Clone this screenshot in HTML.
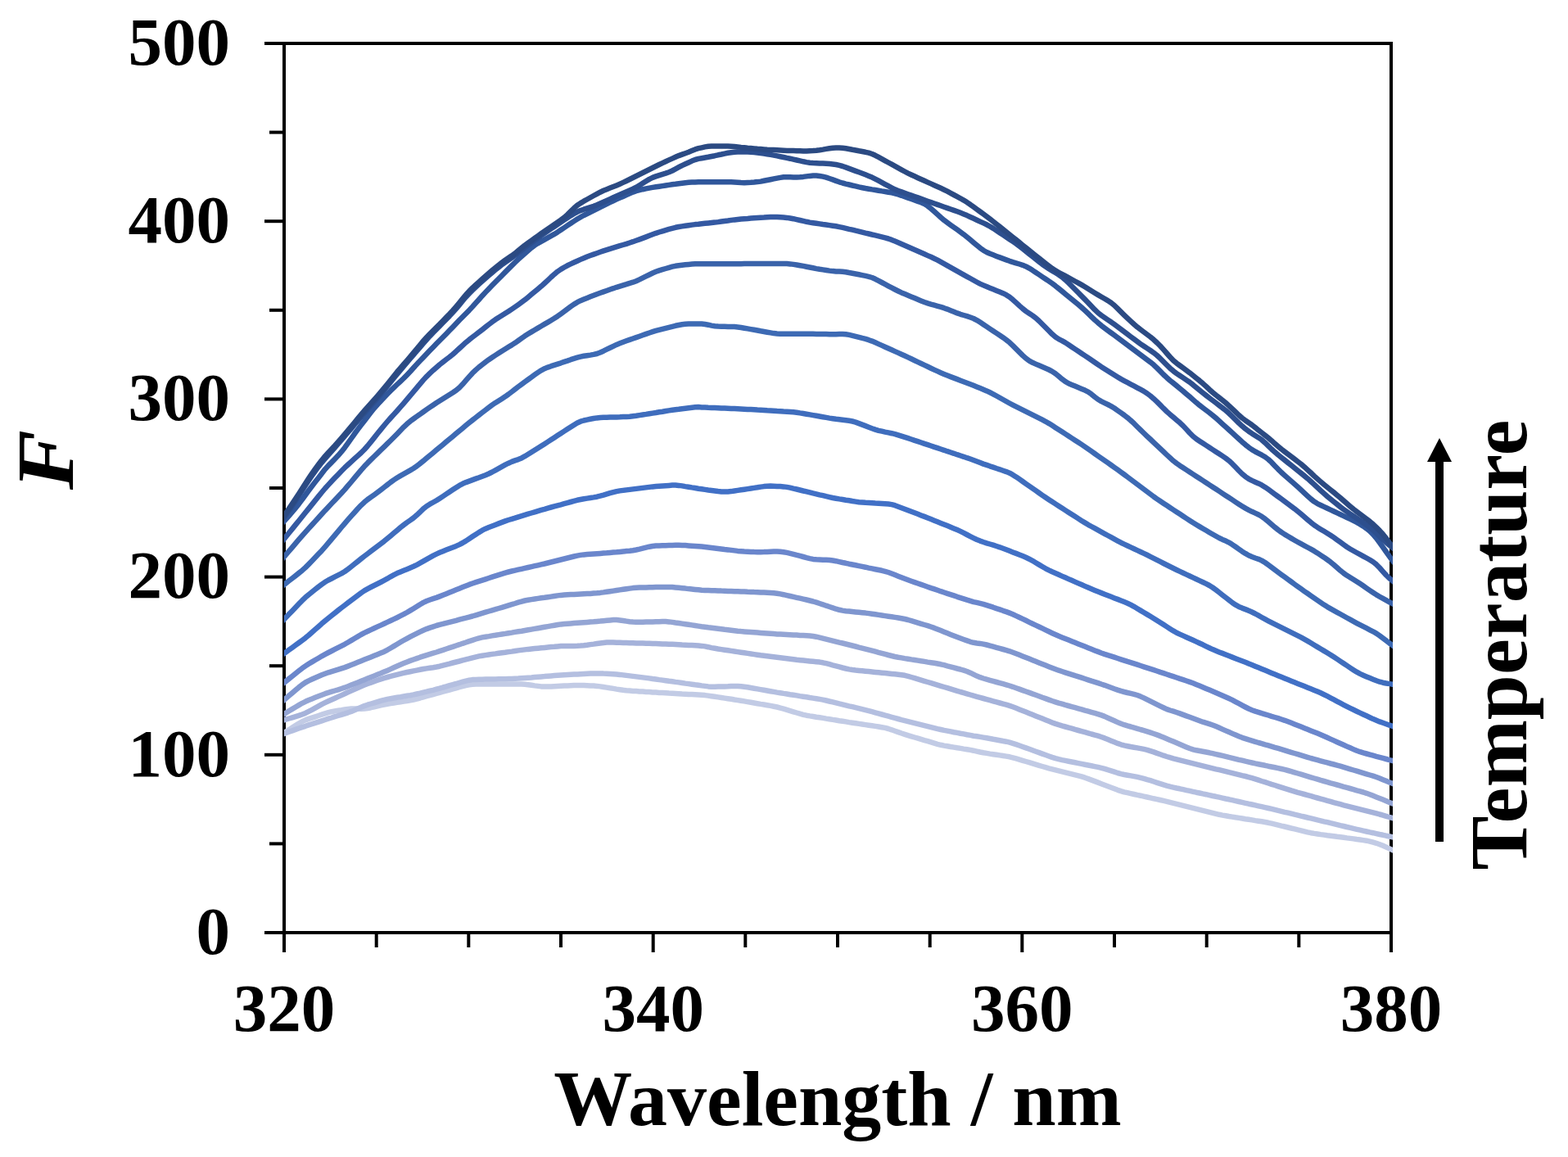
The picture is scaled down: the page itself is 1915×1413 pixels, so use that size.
<!DOCTYPE html>
<html><head><meta charset="utf-8"><title>Fluorescence spectra</title>
<style>
html,body{margin:0;padding:0;background:#fff;}
svg{display:block;}
text{font-family:"Liberation Serif","Times New Roman",serif;font-weight:bold;fill:#000;}
</style></head>
<body>
<svg width="1915" height="1413" viewBox="0 0 1915 1413">
<rect width="1915" height="1413" fill="#fff"/>
<g stroke="#000" stroke-width="4" fill="none" stroke-linecap="butt">
<rect x="347" y="53" width="1352" height="1086"/>
<line x1="323" y1="1139.0" x2="347" y2="1139.0"/>
<line x1="323" y1="921.8" x2="347" y2="921.8"/>
<line x1="323" y1="704.6" x2="347" y2="704.6"/>
<line x1="323" y1="487.4" x2="347" y2="487.4"/>
<line x1="323" y1="270.2" x2="347" y2="270.2"/>
<line x1="323" y1="53.0" x2="347" y2="53.0"/>
<line x1="329" y1="1030.4" x2="347" y2="1030.4"/>
<line x1="329" y1="813.2" x2="347" y2="813.2"/>
<line x1="329" y1="596.0" x2="347" y2="596.0"/>
<line x1="329" y1="378.8" x2="347" y2="378.8"/>
<line x1="329" y1="161.6" x2="347" y2="161.6"/>
<line x1="347.0" y1="1139" x2="347.0" y2="1163"/>
<line x1="797.7" y1="1139" x2="797.7" y2="1163"/>
<line x1="1248.3" y1="1139" x2="1248.3" y2="1163"/>
<line x1="1699.0" y1="1139" x2="1699.0" y2="1163"/>
<line x1="459.7" y1="1139" x2="459.7" y2="1157"/>
<line x1="572.3" y1="1139" x2="572.3" y2="1157"/>
<line x1="685.0" y1="1139" x2="685.0" y2="1157"/>
<line x1="910.3" y1="1139" x2="910.3" y2="1157"/>
<line x1="1023.0" y1="1139" x2="1023.0" y2="1157"/>
<line x1="1135.7" y1="1139" x2="1135.7" y2="1157"/>
<line x1="1361.0" y1="1139" x2="1361.0" y2="1157"/>
<line x1="1473.7" y1="1139" x2="1473.7" y2="1157"/>
<line x1="1586.3" y1="1139" x2="1586.3" y2="1157"/>
</g>
<defs><clipPath id="pc"><rect x="347" y="40" width="1354" height="1110"/></clipPath></defs>
<g fill="none" stroke-width="6.5" stroke-linejoin="round" stroke-linecap="butt" clip-path="url(#pc)">
<path d="M341.0,898.9 L345.0,896.3 L349.0,893.7 L353.0,891.1 L357.0,888.6 L361.0,886.0 L365.0,883.5 L369.0,881.2 L373.0,879.4 L377.0,877.9 L381.0,876.6 L385.0,875.3 L389.0,874.0 L393.0,872.7 L397.0,871.4 L401.0,870.2 L405.0,869.2 L409.0,868.4 L413.0,867.7 L417.0,867.1 L421.0,866.4 L425.0,865.9 L429.0,865.5 L433.0,865.5 L437.0,865.6 L441.0,865.7 L445.0,865.6 L449.0,865.0 L453.0,864.2 L457.0,863.3 L461.0,862.4 L465.0,861.4 L469.0,860.6 L473.0,859.8 L477.0,859.1 L481.0,858.5 L485.0,857.9 L489.0,857.2 L493.0,856.6 L497.0,856.0 L501.0,855.3 L505.0,854.5 L509.0,853.5 L513.0,852.5 L517.0,851.3 L521.0,850.2 L525.0,849.1 L529.0,848.0 L533.0,846.9 L537.0,845.8 L541.0,844.7 L545.0,843.6 L549.0,842.5 L553.0,841.4 L557.0,840.3 L561.0,839.2 L565.0,838.2 L569.0,837.1 L573.0,836.3 L577.0,835.8 L581.0,835.6 L585.0,835.6 L589.0,835.6 L593.0,835.6 L597.0,835.6 L601.0,835.6 L605.0,835.6 L609.0,835.6 L613.0,835.6 L617.0,835.6 L621.0,835.6 L625.0,835.6 L629.0,835.6 L633.0,835.6 L637.0,835.6 L641.0,835.8 L645.0,836.2 L649.0,836.8 L653.0,837.4 L657.0,837.9 L661.0,838.4 L665.0,838.6 L669.0,838.6 L673.0,838.4 L677.0,838.2 L681.0,838.0 L685.0,837.8 L689.0,837.6 L693.0,837.4 L697.0,837.2 L701.0,837.0 L705.0,836.9 L709.0,836.9 L713.0,837.0 L717.0,837.2 L721.0,837.4 L725.0,837.6 L729.0,837.9 L733.0,838.4 L737.0,839.0 L741.0,839.6 L745.0,840.3 L749.0,840.9 L753.0,841.6 L757.0,842.2 L761.0,842.8 L765.0,843.3 L769.0,843.6 L773.0,843.9 L777.0,844.1 L781.0,844.4 L785.0,844.6 L789.0,844.9 L793.0,845.1 L797.0,845.4 L801.0,845.6 L805.0,845.9 L809.0,846.1 L813.0,846.3 L817.0,846.6 L821.0,846.8 L825.0,847.0 L829.0,847.2 L833.0,847.5 L837.0,847.7 L841.0,847.9 L845.0,848.1 L849.0,848.3 L853.0,848.5 L857.0,848.8 L861.0,849.1 L865.0,849.6 L869.0,850.2 L873.0,850.8 L877.0,851.4 L881.0,852.0 L885.0,852.6 L889.0,853.2 L893.0,853.8 L897.0,854.5 L901.0,855.1 L905.0,855.7 L909.0,856.4 L913.0,857.1 L917.0,857.8 L921.0,858.5 L925.0,859.2 L929.0,859.9 L933.0,860.5 L937.0,861.2 L941.0,861.9 L945.0,862.7 L949.0,863.5 L953.0,864.6 L957.0,865.7 L961.0,866.9 L965.0,868.1 L969.0,869.3 L973.0,870.5 L977.0,871.7 L981.0,872.8 L985.0,873.7 L989.0,874.4 L993.0,875.0 L997.0,875.7 L1001.0,876.3 L1005.0,876.9 L1009.0,877.6 L1013.0,878.2 L1017.0,878.9 L1021.0,879.5 L1025.0,880.2 L1029.0,880.8 L1033.0,881.4 L1037.0,882.1 L1041.0,882.7 L1045.0,883.3 L1049.0,883.9 L1053.0,884.5 L1057.0,885.1 L1061.0,885.7 L1065.0,886.3 L1069.0,886.9 L1073.0,887.5 L1077.0,888.2 L1081.0,888.9 L1085.0,890.0 L1089.0,891.3 L1093.0,892.7 L1097.0,894.1 L1101.0,895.5 L1105.0,896.8 L1109.0,898.1 L1113.0,899.3 L1117.0,900.5 L1121.0,901.7 L1125.0,902.9 L1129.0,904.1 L1133.0,905.2 L1137.0,906.4 L1141.0,907.6 L1145.0,908.8 L1149.0,909.8 L1153.0,910.6 L1157.0,911.3 L1161.0,912.0 L1165.0,912.6 L1169.0,913.3 L1173.0,913.9 L1177.0,914.6 L1181.0,915.2 L1185.0,915.9 L1189.0,916.7 L1193.0,917.6 L1197.0,918.5 L1201.0,919.3 L1205.0,919.9 L1209.0,920.6 L1213.0,921.2 L1217.0,921.8 L1221.0,922.4 L1225.0,923.0 L1229.0,923.6 L1233.0,924.3 L1237.0,925.3 L1241.0,926.4 L1245.0,927.6 L1249.0,928.8 L1253.0,930.0 L1257.0,931.2 L1261.0,932.4 L1265.0,933.6 L1269.0,934.8 L1273.0,936.0 L1277.0,937.2 L1281.0,938.3 L1285.0,939.3 L1289.0,940.3 L1293.0,941.3 L1297.0,942.3 L1301.0,943.3 L1305.0,944.3 L1309.0,945.3 L1313.0,946.3 L1317.0,947.3 L1321.0,948.4 L1325.0,949.7 L1329.0,951.1 L1333.0,952.6 L1337.0,954.1 L1341.0,955.6 L1345.0,957.2 L1349.0,958.7 L1353.0,960.2 L1357.0,961.7 L1361.0,963.3 L1365.0,964.8 L1369.0,966.1 L1373.0,967.3 L1377.0,968.2 L1381.0,969.1 L1385.0,970.0 L1389.0,970.9 L1393.0,971.7 L1397.0,972.6 L1401.0,973.5 L1405.0,974.4 L1409.0,975.3 L1413.0,976.1 L1417.0,977.0 L1421.0,977.9 L1425.0,978.8 L1429.0,979.8 L1433.0,980.8 L1437.0,981.8 L1441.0,982.8 L1445.0,983.8 L1449.0,984.8 L1453.0,985.8 L1457.0,986.8 L1461.0,987.8 L1465.0,988.8 L1469.0,989.8 L1473.0,990.8 L1477.0,991.8 L1481.0,992.8 L1485.0,993.8 L1489.0,994.8 L1493.0,995.6 L1497.0,996.3 L1501.0,997.0 L1505.0,997.6 L1509.0,998.3 L1513.0,998.9 L1517.0,999.5 L1521.0,1000.2 L1525.0,1000.8 L1529.0,1001.4 L1533.0,1002.1 L1537.0,1002.7 L1541.0,1003.3 L1545.0,1004.0 L1549.0,1004.8 L1553.0,1005.7 L1557.0,1006.6 L1561.0,1007.6 L1565.0,1008.6 L1569.0,1009.5 L1573.0,1010.5 L1577.0,1011.5 L1581.0,1012.4 L1585.0,1013.4 L1589.0,1014.3 L1593.0,1015.3 L1597.0,1016.3 L1601.0,1017.2 L1605.0,1017.9 L1609.0,1018.5 L1613.0,1019.1 L1617.0,1019.6 L1621.0,1020.2 L1625.0,1020.7 L1629.0,1021.2 L1633.0,1021.8 L1637.0,1022.3 L1641.0,1022.8 L1645.0,1023.4 L1649.0,1023.9 L1653.0,1024.4 L1657.0,1025.0 L1661.0,1025.5 L1665.0,1026.1 L1669.0,1026.7 L1673.0,1027.6 L1677.0,1028.7 L1681.0,1029.8 L1685.0,1031.2 L1689.0,1032.8 L1693.0,1034.6 L1697.0,1036.4 L1701.0,1038.2 L1705.0,1039.6 L1706.0,1040.6" stroke="#c2cbe5"/>
<path d="M341.0,898.2 L345.0,896.7 L349.0,895.3 L353.0,893.8 L357.0,892.4 L361.0,890.9 L365.0,889.5 L369.0,888.1 L373.0,886.8 L377.0,885.4 L381.0,884.2 L385.0,882.9 L389.0,881.6 L393.0,880.3 L397.0,879.0 L401.0,877.7 L405.0,876.5 L409.0,875.2 L413.0,874.0 L417.0,872.8 L421.0,871.6 L425.0,870.3 L429.0,868.9 L433.0,867.3 L437.0,865.5 L441.0,863.8 L445.0,862.1 L449.0,860.7 L453.0,859.5 L457.0,858.3 L461.0,857.1 L465.0,855.9 L469.0,854.8 L473.0,853.9 L477.0,853.2 L481.0,852.5 L485.0,851.8 L489.0,851.2 L493.0,850.5 L497.0,849.8 L501.0,849.2 L505.0,848.4 L509.0,847.5 L513.0,846.6 L517.0,845.6 L521.0,844.7 L525.0,843.7 L529.0,842.8 L533.0,841.7 L537.0,840.7 L541.0,839.5 L545.0,838.4 L549.0,837.2 L553.0,836.1 L557.0,835.0 L561.0,833.8 L565.0,832.7 L569.0,831.6 L573.0,830.7 L577.0,830.1 L581.0,829.9 L585.0,829.8 L589.0,829.7 L593.0,829.6 L597.0,829.6 L601.0,829.5 L605.0,829.4 L609.0,829.3 L613.0,829.2 L617.0,829.2 L621.0,829.1 L625.0,829.0 L629.0,828.8 L633.0,828.6 L637.0,828.3 L641.0,828.0 L645.0,827.7 L649.0,827.4 L653.0,827.0 L657.0,826.7 L661.0,826.4 L665.0,826.1 L669.0,825.7 L673.0,825.4 L677.0,825.1 L681.0,824.8 L685.0,824.5 L689.0,824.2 L693.0,824.0 L697.0,823.8 L701.0,823.6 L705.0,823.4 L709.0,823.2 L713.0,823.0 L717.0,822.8 L721.0,822.6 L725.0,822.5 L729.0,822.4 L733.0,822.4 L737.0,822.6 L741.0,822.7 L745.0,822.9 L749.0,823.2 L753.0,823.5 L757.0,823.9 L761.0,824.4 L765.0,824.9 L769.0,825.4 L773.0,825.9 L777.0,826.4 L781.0,826.9 L785.0,827.4 L789.0,827.9 L793.0,828.4 L797.0,829.0 L801.0,829.5 L805.0,830.1 L809.0,830.6 L813.0,831.2 L817.0,831.8 L821.0,832.3 L825.0,832.9 L829.0,833.4 L833.0,834.0 L837.0,834.6 L841.0,835.1 L845.0,835.7 L849.0,836.3 L853.0,836.8 L857.0,837.4 L861.0,837.9 L865.0,838.4 L869.0,838.7 L873.0,838.7 L877.0,838.6 L881.0,838.5 L885.0,838.4 L889.0,838.3 L893.0,838.1 L897.0,838.0 L901.0,838.0 L905.0,838.2 L909.0,838.7 L913.0,839.3 L917.0,840.0 L921.0,840.7 L925.0,841.4 L929.0,842.1 L933.0,842.8 L937.0,843.5 L941.0,844.2 L945.0,844.9 L949.0,845.6 L953.0,846.2 L957.0,846.9 L961.0,847.5 L965.0,848.2 L969.0,848.8 L973.0,849.4 L977.0,850.1 L981.0,850.7 L985.0,851.3 L989.0,852.0 L993.0,852.6 L997.0,853.2 L1001.0,853.9 L1005.0,854.6 L1009.0,855.5 L1013.0,856.5 L1017.0,857.4 L1021.0,858.4 L1025.0,859.4 L1029.0,860.3 L1033.0,861.3 L1037.0,862.3 L1041.0,863.2 L1045.0,864.2 L1049.0,865.1 L1053.0,866.1 L1057.0,867.1 L1061.0,868.1 L1065.0,869.2 L1069.0,870.3 L1073.0,871.4 L1077.0,872.5 L1081.0,873.6 L1085.0,874.7 L1089.0,875.8 L1093.0,876.9 L1097.0,878.0 L1101.0,879.1 L1105.0,880.1 L1109.0,881.1 L1113.0,882.1 L1117.0,883.1 L1121.0,884.1 L1125.0,885.1 L1129.0,886.1 L1133.0,887.1 L1137.0,888.1 L1141.0,889.1 L1145.0,890.1 L1149.0,891.0 L1153.0,891.9 L1157.0,892.6 L1161.0,893.4 L1165.0,894.2 L1169.0,894.9 L1173.0,895.7 L1177.0,896.4 L1181.0,897.2 L1185.0,897.9 L1189.0,898.7 L1193.0,899.3 L1197.0,899.9 L1201.0,900.6 L1205.0,901.3 L1209.0,902.0 L1213.0,902.8 L1217.0,903.5 L1221.0,904.2 L1225.0,905.0 L1229.0,905.7 L1233.0,906.6 L1237.0,907.8 L1241.0,909.1 L1245.0,910.5 L1249.0,912.0 L1253.0,913.4 L1257.0,914.8 L1261.0,916.3 L1265.0,917.7 L1269.0,919.1 L1273.0,920.6 L1277.0,922.0 L1281.0,923.5 L1285.0,924.9 L1289.0,926.2 L1293.0,927.2 L1297.0,928.1 L1301.0,928.9 L1305.0,929.7 L1309.0,930.5 L1313.0,931.3 L1317.0,932.1 L1321.0,932.9 L1325.0,933.7 L1329.0,934.5 L1333.0,935.3 L1337.0,936.1 L1341.0,936.9 L1345.0,937.8 L1349.0,938.9 L1353.0,940.2 L1357.0,941.4 L1361.0,942.7 L1365.0,944.0 L1369.0,945.1 L1373.0,946.0 L1377.0,946.7 L1381.0,947.4 L1385.0,948.1 L1389.0,948.9 L1393.0,949.8 L1397.0,950.9 L1401.0,952.1 L1405.0,953.2 L1409.0,954.5 L1413.0,955.8 L1417.0,957.1 L1421.0,958.4 L1425.0,959.6 L1429.0,960.7 L1433.0,961.6 L1437.0,962.5 L1441.0,963.3 L1445.0,964.2 L1449.0,965.1 L1453.0,965.9 L1457.0,966.8 L1461.0,967.7 L1465.0,968.5 L1469.0,969.4 L1473.0,970.2 L1477.0,971.1 L1481.0,972.0 L1485.0,972.8 L1489.0,973.7 L1493.0,974.6 L1497.0,975.5 L1501.0,976.3 L1505.0,977.2 L1509.0,978.1 L1513.0,979.0 L1517.0,979.9 L1521.0,980.8 L1525.0,981.7 L1529.0,982.5 L1533.0,983.4 L1537.0,984.3 L1541.0,985.2 L1545.0,986.1 L1549.0,987.0 L1553.0,987.9 L1557.0,988.9 L1561.0,989.9 L1565.0,990.8 L1569.0,991.8 L1573.0,992.7 L1577.0,993.7 L1581.0,994.7 L1585.0,995.6 L1589.0,996.6 L1593.0,997.5 L1597.0,998.5 L1601.0,999.4 L1605.0,1000.4 L1609.0,1001.4 L1613.0,1002.3 L1617.0,1003.3 L1621.0,1004.2 L1625.0,1005.2 L1629.0,1006.1 L1633.0,1007.1 L1637.0,1008.1 L1641.0,1009.0 L1645.0,1010.0 L1649.0,1010.9 L1653.0,1011.9 L1657.0,1012.8 L1661.0,1013.7 L1665.0,1014.6 L1669.0,1015.5 L1673.0,1016.4 L1677.0,1017.2 L1681.0,1018.1 L1685.0,1019.0 L1689.0,1019.8 L1693.0,1020.7 L1697.0,1021.5 L1701.0,1022.4 L1705.0,1023.0 L1706.0,1023.5" stroke="#b4bfe0"/>
<path d="M341.0,881.1 L345.0,879.9 L349.0,878.7 L353.0,877.5 L357.0,876.3 L361.0,875.1 L365.0,873.9 L369.0,872.5 L373.0,870.9 L377.0,868.9 L381.0,866.8 L385.0,864.6 L389.0,862.4 L393.0,860.2 L397.0,858.2 L401.0,856.3 L405.0,854.5 L409.0,852.7 L413.0,850.9 L417.0,849.1 L421.0,847.3 L425.0,845.4 L429.0,843.6 L433.0,841.8 L437.0,840.0 L441.0,838.3 L445.0,836.6 L449.0,835.0 L453.0,833.6 L457.0,832.2 L461.0,830.8 L465.0,829.4 L469.0,828.1 L473.0,827.0 L477.0,825.9 L481.0,824.9 L485.0,823.9 L489.0,822.9 L493.0,821.9 L497.0,821.0 L501.0,820.2 L505.0,819.4 L509.0,818.6 L513.0,817.8 L517.0,817.0 L521.0,816.4 L525.0,815.8 L529.0,815.2 L533.0,814.5 L537.0,813.7 L541.0,812.6 L545.0,811.6 L549.0,810.6 L553.0,809.5 L557.0,808.5 L561.0,807.5 L565.0,806.4 L569.0,805.4 L573.0,804.4 L577.0,803.3 L581.0,802.3 L585.0,801.4 L589.0,800.7 L593.0,800.1 L597.0,799.5 L601.0,798.9 L605.0,798.4 L609.0,797.8 L613.0,797.2 L617.0,796.7 L621.0,796.1 L625.0,795.6 L629.0,795.0 L633.0,794.4 L637.0,793.9 L641.0,793.4 L645.0,792.9 L649.0,792.5 L653.0,792.1 L657.0,791.7 L661.0,791.3 L665.0,790.9 L669.0,790.5 L673.0,790.1 L677.0,789.8 L681.0,789.4 L685.0,789.1 L689.0,788.9 L693.0,788.9 L697.0,788.9 L701.0,788.9 L705.0,788.8 L709.0,788.6 L713.0,788.2 L717.0,787.7 L721.0,787.1 L725.0,786.6 L729.0,786.0 L733.0,785.5 L737.0,785.0 L741.0,784.6 L745.0,784.6 L749.0,784.6 L753.0,784.7 L757.0,784.8 L761.0,784.9 L765.0,785.0 L769.0,785.2 L773.0,785.3 L777.0,785.4 L781.0,785.5 L785.0,785.6 L789.0,785.7 L793.0,785.8 L797.0,786.0 L801.0,786.1 L805.0,786.2 L809.0,786.4 L813.0,786.5 L817.0,786.7 L821.0,786.8 L825.0,787.0 L829.0,787.2 L833.0,787.5 L837.0,787.7 L841.0,787.9 L845.0,788.1 L849.0,788.3 L853.0,788.5 L857.0,788.9 L861.0,789.4 L865.0,790.2 L869.0,791.1 L873.0,791.8 L877.0,792.5 L881.0,793.1 L885.0,793.7 L889.0,794.3 L893.0,794.9 L897.0,795.5 L901.0,796.1 L905.0,796.7 L909.0,797.3 L913.0,797.9 L917.0,798.5 L921.0,799.1 L925.0,799.7 L929.0,800.3 L933.0,800.8 L937.0,801.3 L941.0,801.8 L945.0,802.3 L949.0,802.8 L953.0,803.3 L957.0,803.8 L961.0,804.3 L965.0,804.8 L969.0,805.3 L973.0,805.8 L977.0,806.2 L981.0,806.6 L985.0,807.0 L989.0,807.4 L993.0,807.8 L997.0,808.2 L1001.0,808.6 L1005.0,809.3 L1009.0,810.2 L1013.0,811.2 L1017.0,812.3 L1021.0,813.3 L1025.0,814.4 L1029.0,815.5 L1033.0,816.5 L1037.0,817.4 L1041.0,818.0 L1045.0,818.5 L1049.0,818.9 L1053.0,819.3 L1057.0,819.7 L1061.0,820.1 L1065.0,820.5 L1069.0,820.9 L1073.0,821.3 L1077.0,821.7 L1081.0,822.1 L1085.0,822.5 L1089.0,822.9 L1093.0,823.3 L1097.0,823.7 L1101.0,824.2 L1105.0,824.8 L1109.0,825.8 L1113.0,827.0 L1117.0,828.2 L1121.0,829.4 L1125.0,830.6 L1129.0,831.8 L1133.0,833.0 L1137.0,834.2 L1141.0,835.4 L1145.0,836.6 L1149.0,837.8 L1153.0,839.0 L1157.0,840.2 L1161.0,841.4 L1165.0,842.6 L1169.0,843.8 L1173.0,845.0 L1177.0,846.1 L1181.0,847.3 L1185.0,848.5 L1189.0,849.7 L1193.0,850.8 L1197.0,851.9 L1201.0,853.0 L1205.0,854.1 L1209.0,855.2 L1213.0,856.3 L1217.0,857.4 L1221.0,858.5 L1225.0,859.6 L1229.0,860.7 L1233.0,861.9 L1237.0,863.3 L1241.0,864.8 L1245.0,866.4 L1249.0,868.0 L1253.0,869.6 L1257.0,871.2 L1261.0,872.8 L1265.0,874.4 L1269.0,876.0 L1273.0,877.6 L1277.0,879.2 L1281.0,880.8 L1285.0,882.4 L1289.0,883.9 L1293.0,885.2 L1297.0,886.4 L1301.0,887.5 L1305.0,888.6 L1309.0,889.7 L1313.0,890.9 L1317.0,892.0 L1321.0,893.1 L1325.0,894.2 L1329.0,895.3 L1333.0,896.5 L1337.0,897.6 L1341.0,898.7 L1345.0,900.0 L1349.0,901.4 L1353.0,903.0 L1357.0,904.7 L1361.0,906.3 L1365.0,907.9 L1369.0,909.3 L1373.0,910.4 L1377.0,911.2 L1381.0,912.0 L1385.0,912.7 L1389.0,913.4 L1393.0,914.1 L1397.0,914.9 L1401.0,915.8 L1405.0,917.1 L1409.0,918.4 L1413.0,919.9 L1417.0,921.3 L1421.0,922.7 L1425.0,924.0 L1429.0,925.2 L1433.0,926.3 L1437.0,927.3 L1441.0,928.3 L1445.0,929.3 L1449.0,930.3 L1453.0,931.3 L1457.0,932.3 L1461.0,933.3 L1465.0,934.3 L1469.0,935.3 L1473.0,936.3 L1477.0,937.3 L1481.0,938.3 L1485.0,939.3 L1489.0,940.2 L1493.0,941.2 L1497.0,942.2 L1501.0,943.2 L1505.0,944.1 L1509.0,945.1 L1513.0,946.1 L1517.0,947.1 L1521.0,948.0 L1525.0,949.1 L1529.0,950.2 L1533.0,951.4 L1537.0,952.7 L1541.0,954.0 L1545.0,955.2 L1549.0,956.5 L1553.0,957.8 L1557.0,959.0 L1561.0,960.3 L1565.0,961.6 L1569.0,962.9 L1573.0,964.1 L1577.0,965.4 L1581.0,966.6 L1585.0,967.8 L1589.0,968.9 L1593.0,970.0 L1597.0,971.1 L1601.0,972.2 L1605.0,973.4 L1609.0,974.5 L1613.0,975.6 L1617.0,976.7 L1621.0,977.8 L1625.0,978.9 L1629.0,980.1 L1633.0,981.2 L1637.0,982.2 L1641.0,983.3 L1645.0,984.3 L1649.0,985.3 L1653.0,986.3 L1657.0,987.3 L1661.0,988.3 L1665.0,989.3 L1669.0,990.3 L1673.0,991.3 L1677.0,992.3 L1681.0,993.3 L1685.0,994.5 L1689.0,995.6 L1693.0,996.8 L1697.0,998.0 L1701.0,999.1 L1705.0,1000.1 L1706.0,1000.7" stroke="#a5b2da"/>
<path d="M341.0,875.5 L345.0,873.1 L349.0,870.7 L353.0,868.3 L357.0,865.9 L361.0,863.5 L365.0,861.1 L369.0,858.8 L373.0,856.8 L377.0,855.0 L381.0,853.4 L385.0,851.8 L389.0,850.2 L393.0,848.7 L397.0,847.2 L401.0,845.9 L405.0,844.7 L409.0,843.5 L413.0,842.3 L417.0,841.0 L421.0,839.7 L425.0,838.2 L429.0,836.6 L433.0,835.0 L437.0,833.4 L441.0,831.8 L445.0,830.2 L449.0,828.6 L453.0,827.0 L457.0,825.4 L461.0,823.8 L465.0,822.3 L469.0,820.6 L473.0,818.9 L477.0,817.1 L481.0,815.3 L485.0,813.5 L489.0,811.7 L493.0,810.0 L497.0,808.4 L501.0,806.9 L505.0,805.5 L509.0,804.1 L513.0,802.7 L517.0,801.4 L521.0,800.1 L525.0,798.9 L529.0,797.7 L533.0,796.5 L537.0,795.2 L541.0,793.9 L545.0,792.5 L549.0,791.2 L553.0,789.9 L557.0,788.5 L561.0,787.2 L565.0,785.8 L569.0,784.5 L573.0,783.1 L577.0,781.8 L581.0,780.5 L585.0,779.3 L589.0,778.4 L593.0,777.7 L597.0,777.1 L601.0,776.4 L605.0,775.8 L609.0,775.1 L613.0,774.5 L617.0,773.9 L621.0,773.2 L625.0,772.6 L629.0,771.9 L633.0,771.3 L637.0,770.7 L641.0,770.0 L645.0,769.3 L649.0,768.6 L653.0,767.9 L657.0,767.2 L661.0,766.5 L665.0,765.8 L669.0,765.1 L673.0,764.4 L677.0,763.7 L681.0,763.0 L685.0,762.4 L689.0,762.0 L693.0,761.7 L697.0,761.4 L701.0,761.1 L705.0,760.8 L709.0,760.5 L713.0,760.2 L717.0,759.9 L721.0,759.6 L725.0,759.3 L729.0,758.9 L733.0,758.6 L737.0,758.2 L741.0,757.8 L745.0,757.4 L749.0,757.1 L753.0,757.1 L757.0,757.5 L761.0,758.0 L765.0,758.6 L769.0,759.2 L773.0,759.6 L777.0,759.8 L781.0,759.8 L785.0,759.7 L789.0,759.6 L793.0,759.5 L797.0,759.4 L801.0,759.3 L805.0,759.2 L809.0,759.1 L813.0,759.1 L817.0,759.4 L821.0,759.9 L825.0,760.5 L829.0,761.0 L833.0,761.6 L837.0,762.2 L841.0,762.8 L845.0,763.4 L849.0,764.0 L853.0,764.6 L857.0,765.2 L861.0,765.7 L865.0,766.3 L869.0,766.8 L873.0,767.3 L877.0,767.8 L881.0,768.3 L885.0,768.8 L889.0,769.2 L893.0,769.7 L897.0,770.2 L901.0,770.7 L905.0,771.1 L909.0,771.4 L913.0,771.7 L917.0,772.0 L921.0,772.3 L925.0,772.6 L929.0,772.9 L933.0,773.2 L937.0,773.5 L941.0,773.8 L945.0,774.1 L949.0,774.4 L953.0,774.6 L957.0,774.8 L961.0,775.0 L965.0,775.2 L969.0,775.4 L973.0,775.6 L977.0,775.9 L981.0,776.1 L985.0,776.3 L989.0,776.5 L993.0,777.0 L997.0,777.7 L1001.0,778.6 L1005.0,779.6 L1009.0,780.6 L1013.0,781.6 L1017.0,782.6 L1021.0,783.6 L1025.0,784.6 L1029.0,785.5 L1033.0,786.5 L1037.0,787.5 L1041.0,788.5 L1045.0,789.5 L1049.0,790.6 L1053.0,791.6 L1057.0,792.6 L1061.0,793.6 L1065.0,794.6 L1069.0,795.7 L1073.0,796.8 L1077.0,797.8 L1081.0,798.9 L1085.0,800.0 L1089.0,801.0 L1093.0,802.0 L1097.0,802.8 L1101.0,803.4 L1105.0,804.1 L1109.0,804.7 L1113.0,805.4 L1117.0,806.0 L1121.0,806.6 L1125.0,807.3 L1129.0,807.9 L1133.0,808.6 L1137.0,809.2 L1141.0,809.8 L1145.0,810.5 L1149.0,811.3 L1153.0,812.2 L1157.0,813.3 L1161.0,814.3 L1165.0,815.4 L1169.0,816.5 L1173.0,817.5 L1177.0,818.7 L1181.0,820.0 L1185.0,821.7 L1189.0,823.7 L1193.0,825.6 L1197.0,827.2 L1201.0,828.5 L1205.0,829.7 L1209.0,830.8 L1213.0,831.9 L1217.0,833.0 L1221.0,834.1 L1225.0,835.2 L1229.0,836.3 L1233.0,837.5 L1237.0,838.8 L1241.0,840.2 L1245.0,841.6 L1249.0,843.1 L1253.0,844.5 L1257.0,845.9 L1261.0,847.4 L1265.0,848.8 L1269.0,850.2 L1273.0,851.7 L1277.0,853.1 L1281.0,854.6 L1285.0,856.0 L1289.0,857.3 L1293.0,858.6 L1297.0,859.7 L1301.0,860.9 L1305.0,862.0 L1309.0,863.1 L1313.0,864.2 L1317.0,865.3 L1321.0,866.4 L1325.0,867.6 L1329.0,868.7 L1333.0,869.8 L1337.0,870.9 L1341.0,872.1 L1345.0,873.4 L1349.0,874.9 L1353.0,876.7 L1357.0,878.5 L1361.0,880.3 L1365.0,882.1 L1369.0,883.8 L1373.0,885.2 L1377.0,886.4 L1381.0,887.5 L1385.0,888.7 L1389.0,889.8 L1393.0,891.0 L1397.0,892.1 L1401.0,893.3 L1405.0,894.6 L1409.0,896.0 L1413.0,897.4 L1417.0,898.9 L1421.0,900.6 L1425.0,902.3 L1429.0,903.9 L1433.0,905.6 L1437.0,907.3 L1441.0,909.0 L1445.0,910.7 L1449.0,912.4 L1453.0,914.0 L1457.0,915.3 L1461.0,916.3 L1465.0,917.0 L1469.0,917.7 L1473.0,918.5 L1477.0,919.3 L1481.0,920.2 L1485.0,921.1 L1489.0,922.0 L1493.0,922.9 L1497.0,923.9 L1501.0,924.9 L1505.0,925.8 L1509.0,926.8 L1513.0,927.8 L1517.0,928.7 L1521.0,929.7 L1525.0,930.6 L1529.0,931.5 L1533.0,932.4 L1537.0,933.2 L1541.0,934.0 L1545.0,934.8 L1549.0,935.7 L1553.0,936.5 L1557.0,937.3 L1561.0,938.1 L1565.0,939.0 L1569.0,939.9 L1573.0,941.0 L1577.0,942.1 L1581.0,943.3 L1585.0,944.5 L1589.0,945.7 L1593.0,946.9 L1597.0,948.1 L1601.0,949.3 L1605.0,950.5 L1609.0,951.7 L1613.0,952.9 L1617.0,954.0 L1621.0,955.1 L1625.0,956.3 L1629.0,957.4 L1633.0,958.5 L1637.0,959.6 L1641.0,960.8 L1645.0,961.9 L1649.0,963.0 L1653.0,964.1 L1657.0,965.3 L1661.0,966.4 L1665.0,967.5 L1669.0,968.8 L1673.0,970.2 L1677.0,971.8 L1681.0,973.4 L1685.0,975.0 L1689.0,976.6 L1693.0,978.3 L1697.0,979.9 L1701.0,981.4 L1705.0,982.7 L1706.0,983.5" stroke="#94a5d4"/>
<path d="M341.0,859.8 L345.0,856.4 L349.0,853.0 L353.0,849.6 L357.0,846.2 L361.0,842.8 L365.0,839.4 L369.0,836.2 L373.0,833.5 L377.0,831.4 L381.0,829.5 L385.0,827.7 L389.0,826.0 L393.0,824.2 L397.0,822.7 L401.0,821.3 L405.0,820.1 L409.0,818.9 L413.0,817.7 L417.0,816.4 L421.0,815.1 L425.0,813.6 L429.0,812.0 L433.0,810.4 L437.0,808.8 L441.0,807.2 L445.0,805.6 L449.0,804.0 L453.0,802.4 L457.0,800.8 L461.0,799.2 L465.0,797.6 L469.0,795.9 L473.0,793.8 L477.0,791.5 L481.0,789.1 L485.0,786.7 L489.0,784.3 L493.0,782.0 L497.0,779.8 L501.0,777.7 L505.0,775.7 L509.0,773.7 L513.0,771.7 L517.0,769.8 L521.0,768.1 L525.0,766.6 L529.0,765.3 L533.0,764.0 L537.0,762.9 L541.0,761.9 L545.0,760.8 L549.0,759.8 L553.0,758.8 L557.0,757.8 L561.0,756.7 L565.0,755.7 L569.0,754.7 L573.0,753.6 L577.0,752.5 L581.0,751.3 L585.0,750.1 L589.0,748.9 L593.0,747.7 L597.0,746.5 L601.0,745.3 L605.0,744.2 L609.0,743.0 L613.0,741.8 L617.0,740.6 L621.0,739.4 L625.0,738.2 L629.0,737.0 L633.0,735.7 L637.0,734.6 L641.0,733.5 L645.0,732.8 L649.0,732.1 L653.0,731.5 L657.0,730.9 L661.0,730.3 L665.0,729.8 L669.0,729.2 L673.0,728.6 L677.0,728.0 L681.0,727.4 L685.0,726.9 L689.0,726.6 L693.0,726.3 L697.0,726.1 L701.0,725.9 L705.0,725.7 L709.0,725.5 L713.0,725.3 L717.0,725.1 L721.0,724.9 L725.0,724.6 L729.0,724.3 L733.0,723.9 L737.0,723.4 L741.0,722.8 L745.0,722.2 L749.0,721.6 L753.0,721.0 L757.0,720.4 L761.0,719.8 L765.0,719.2 L769.0,718.6 L773.0,718.1 L777.0,717.8 L781.0,717.6 L785.0,717.5 L789.0,717.4 L793.0,717.3 L797.0,717.2 L801.0,717.1 L805.0,717.0 L809.0,716.9 L813.0,716.9 L817.0,716.9 L821.0,717.0 L825.0,717.4 L829.0,717.8 L833.0,718.2 L837.0,718.6 L841.0,719.1 L845.0,719.5 L849.0,719.9 L853.0,720.3 L857.0,720.7 L861.0,721.0 L865.0,721.1 L869.0,721.2 L873.0,721.3 L877.0,721.4 L881.0,721.6 L885.0,721.7 L889.0,721.9 L893.0,722.0 L897.0,722.2 L901.0,722.3 L905.0,722.5 L909.0,722.6 L913.0,722.8 L917.0,722.9 L921.0,723.1 L925.0,723.2 L929.0,723.4 L933.0,723.6 L937.0,723.8 L941.0,724.0 L945.0,724.3 L949.0,724.7 L953.0,725.4 L957.0,726.2 L961.0,727.1 L965.0,728.0 L969.0,728.9 L973.0,729.8 L977.0,730.7 L981.0,731.6 L985.0,732.5 L989.0,733.5 L993.0,734.5 L997.0,735.7 L1001.0,737.0 L1005.0,738.3 L1009.0,739.7 L1013.0,741.0 L1017.0,742.3 L1021.0,743.7 L1025.0,744.8 L1029.0,745.6 L1033.0,746.2 L1037.0,746.6 L1041.0,747.0 L1045.0,747.4 L1049.0,747.8 L1053.0,748.2 L1057.0,748.6 L1061.0,749.1 L1065.0,749.7 L1069.0,750.3 L1073.0,750.9 L1077.0,751.5 L1081.0,752.1 L1085.0,752.7 L1089.0,753.3 L1093.0,753.9 L1097.0,754.5 L1101.0,755.2 L1105.0,756.0 L1109.0,757.0 L1113.0,758.2 L1117.0,759.4 L1121.0,760.6 L1125.0,761.8 L1129.0,763.0 L1133.0,764.2 L1137.0,765.5 L1141.0,766.9 L1145.0,768.5 L1149.0,770.1 L1153.0,771.7 L1157.0,773.3 L1161.0,774.9 L1165.0,776.5 L1169.0,778.0 L1173.0,779.5 L1177.0,781.0 L1181.0,782.4 L1185.0,783.8 L1189.0,784.8 L1193.0,785.5 L1197.0,785.9 L1201.0,786.6 L1205.0,787.5 L1209.0,788.6 L1213.0,789.7 L1217.0,790.8 L1221.0,791.9 L1225.0,793.0 L1229.0,794.1 L1233.0,795.3 L1237.0,796.7 L1241.0,798.2 L1245.0,799.8 L1249.0,801.4 L1253.0,803.0 L1257.0,804.6 L1261.0,806.2 L1265.0,807.8 L1269.0,809.4 L1273.0,811.0 L1277.0,812.6 L1281.0,814.2 L1285.0,815.8 L1289.0,817.3 L1293.0,818.7 L1297.0,820.0 L1301.0,821.3 L1305.0,822.6 L1309.0,823.9 L1313.0,825.2 L1317.0,826.4 L1321.0,827.7 L1325.0,829.0 L1329.0,830.3 L1333.0,831.6 L1337.0,832.8 L1341.0,834.1 L1345.0,835.5 L1349.0,836.8 L1353.0,838.3 L1357.0,839.7 L1361.0,841.2 L1365.0,842.6 L1369.0,843.9 L1373.0,845.0 L1377.0,846.0 L1381.0,846.9 L1385.0,847.8 L1389.0,849.0 L1393.0,850.6 L1397.0,852.4 L1401.0,854.4 L1405.0,856.4 L1409.0,858.4 L1413.0,860.4 L1417.0,862.4 L1421.0,864.3 L1425.0,866.1 L1429.0,867.5 L1433.0,868.7 L1437.0,870.0 L1441.0,871.4 L1445.0,872.9 L1449.0,874.4 L1453.0,875.8 L1457.0,877.3 L1461.0,878.8 L1465.0,880.3 L1469.0,881.7 L1473.0,882.9 L1477.0,884.1 L1481.0,885.5 L1485.0,887.1 L1489.0,888.8 L1493.0,890.6 L1497.0,892.4 L1501.0,894.1 L1505.0,895.9 L1509.0,897.6 L1513.0,899.3 L1517.0,900.8 L1521.0,902.1 L1525.0,903.4 L1529.0,904.6 L1533.0,905.8 L1537.0,907.0 L1541.0,908.1 L1545.0,909.3 L1549.0,910.4 L1553.0,911.6 L1557.0,912.8 L1561.0,913.9 L1565.0,915.1 L1569.0,916.3 L1573.0,917.6 L1577.0,918.8 L1581.0,920.0 L1585.0,921.2 L1589.0,922.4 L1593.0,923.6 L1597.0,924.8 L1601.0,926.0 L1605.0,927.1 L1609.0,928.2 L1613.0,929.3 L1617.0,930.4 L1621.0,931.4 L1625.0,932.5 L1629.0,933.5 L1633.0,934.6 L1637.0,935.7 L1641.0,936.9 L1645.0,938.1 L1649.0,939.3 L1653.0,940.5 L1657.0,941.7 L1661.0,942.9 L1665.0,944.1 L1669.0,945.3 L1673.0,946.5 L1677.0,947.7 L1681.0,949.0 L1685.0,950.5 L1689.0,952.2 L1693.0,953.8 L1697.0,955.5 L1701.0,957.0 L1705.0,958.3 L1706.0,959.2" stroke="#7f96cf"/>
<path d="M341.0,838.5 L345.0,835.3 L349.0,832.1 L353.0,828.9 L357.0,825.7 L361.0,822.5 L365.0,819.3 L369.0,816.2 L373.0,813.4 L377.0,810.8 L381.0,808.4 L385.0,806.0 L389.0,803.7 L393.0,801.3 L397.0,799.1 L401.0,797.0 L405.0,795.0 L409.0,792.9 L413.0,790.9 L417.0,788.9 L421.0,786.8 L425.0,784.5 L429.0,782.1 L433.0,779.7 L437.0,777.4 L441.0,775.0 L445.0,772.9 L449.0,771.0 L453.0,769.1 L457.0,767.3 L461.0,765.4 L465.0,763.6 L469.0,761.7 L473.0,759.9 L477.0,758.0 L481.0,756.1 L485.0,754.2 L489.0,752.2 L493.0,750.2 L497.0,748.0 L501.0,745.6 L505.0,743.2 L509.0,740.7 L513.0,738.2 L517.0,735.9 L521.0,734.0 L525.0,732.5 L529.0,731.2 L533.0,729.9 L537.0,728.4 L541.0,726.8 L545.0,725.2 L549.0,723.5 L553.0,721.9 L557.0,720.3 L561.0,718.7 L565.0,717.1 L569.0,715.5 L573.0,713.9 L577.0,712.5 L581.0,711.2 L585.0,709.9 L589.0,708.6 L593.0,707.3 L597.0,706.0 L601.0,704.7 L605.0,703.4 L609.0,702.1 L613.0,700.8 L617.0,699.6 L621.0,698.5 L625.0,697.5 L629.0,696.6 L633.0,695.7 L637.0,694.8 L641.0,693.9 L645.0,693.0 L649.0,692.1 L653.0,691.2 L657.0,690.3 L661.0,689.4 L665.0,688.5 L669.0,687.5 L673.0,686.5 L677.0,685.5 L681.0,684.5 L685.0,683.5 L689.0,682.5 L693.0,681.5 L697.0,680.5 L701.0,679.5 L705.0,678.6 L709.0,677.9 L713.0,677.4 L717.0,677.1 L721.0,676.8 L725.0,676.5 L729.0,676.2 L733.0,675.9 L737.0,675.6 L741.0,675.3 L745.0,674.9 L749.0,674.6 L753.0,674.3 L757.0,673.9 L761.0,673.5 L765.0,673.1 L769.0,672.7 L773.0,672.2 L777.0,671.5 L781.0,670.6 L785.0,669.6 L789.0,668.6 L793.0,667.7 L797.0,667.0 L801.0,666.6 L805.0,666.4 L809.0,666.3 L813.0,666.2 L817.0,666.0 L821.0,665.9 L825.0,665.8 L829.0,665.8 L833.0,665.9 L837.0,666.1 L841.0,666.4 L845.0,666.7 L849.0,667.0 L853.0,667.3 L857.0,667.6 L861.0,668.0 L865.0,668.5 L869.0,669.0 L873.0,669.5 L877.0,670.0 L881.0,670.5 L885.0,671.0 L889.0,671.4 L893.0,671.9 L897.0,672.4 L901.0,672.9 L905.0,673.2 L909.0,673.5 L913.0,673.7 L917.0,673.9 L921.0,674.1 L925.0,674.2 L929.0,674.2 L933.0,674.1 L937.0,673.9 L941.0,673.7 L945.0,673.5 L949.0,673.5 L953.0,673.8 L957.0,674.2 L961.0,674.9 L965.0,675.8 L969.0,676.8 L973.0,677.9 L977.0,678.9 L981.0,680.0 L985.0,681.1 L989.0,682.1 L993.0,682.9 L997.0,683.3 L1001.0,683.5 L1005.0,683.7 L1009.0,683.8 L1013.0,684.0 L1017.0,684.5 L1021.0,685.2 L1025.0,686.1 L1029.0,687.0 L1033.0,687.8 L1037.0,688.7 L1041.0,689.5 L1045.0,690.3 L1049.0,691.1 L1053.0,691.9 L1057.0,692.7 L1061.0,693.6 L1065.0,694.4 L1069.0,695.2 L1073.0,696.0 L1077.0,696.8 L1081.0,697.8 L1085.0,699.0 L1089.0,700.5 L1093.0,702.1 L1097.0,703.7 L1101.0,705.3 L1105.0,706.8 L1109.0,708.3 L1113.0,709.7 L1117.0,711.1 L1121.0,712.5 L1125.0,713.9 L1129.0,715.3 L1133.0,716.7 L1137.0,718.1 L1141.0,719.4 L1145.0,720.8 L1149.0,722.2 L1153.0,723.5 L1157.0,724.8 L1161.0,726.1 L1165.0,727.4 L1169.0,728.8 L1173.0,730.1 L1177.0,731.4 L1181.0,732.7 L1185.0,733.9 L1189.0,735.1 L1193.0,735.9 L1197.0,736.8 L1201.0,737.8 L1205.0,739.1 L1209.0,740.4 L1213.0,741.7 L1217.0,743.1 L1221.0,744.4 L1225.0,745.8 L1229.0,747.1 L1233.0,748.6 L1237.0,750.2 L1241.0,752.1 L1245.0,754.0 L1249.0,755.9 L1253.0,757.8 L1257.0,759.8 L1261.0,761.7 L1265.0,763.6 L1269.0,765.5 L1273.0,767.4 L1277.0,769.4 L1281.0,771.3 L1285.0,773.2 L1289.0,775.0 L1293.0,776.8 L1297.0,778.4 L1301.0,780.0 L1305.0,781.6 L1309.0,783.2 L1313.0,784.8 L1317.0,786.4 L1321.0,788.0 L1325.0,789.6 L1329.0,791.2 L1333.0,792.8 L1337.0,794.4 L1341.0,795.9 L1345.0,797.5 L1349.0,798.9 L1353.0,800.2 L1357.0,801.4 L1361.0,802.7 L1365.0,804.0 L1369.0,805.3 L1373.0,806.6 L1377.0,807.9 L1381.0,809.1 L1385.0,810.4 L1389.0,811.7 L1393.0,813.0 L1397.0,814.3 L1401.0,815.6 L1405.0,816.9 L1409.0,818.2 L1413.0,819.5 L1417.0,820.9 L1421.0,822.2 L1425.0,823.5 L1429.0,824.9 L1433.0,826.2 L1437.0,827.5 L1441.0,828.9 L1445.0,830.2 L1449.0,831.5 L1453.0,832.9 L1457.0,834.3 L1461.0,835.9 L1465.0,837.5 L1469.0,839.2 L1473.0,840.9 L1477.0,842.6 L1481.0,844.3 L1485.0,846.0 L1489.0,847.7 L1493.0,849.4 L1497.0,851.2 L1501.0,853.0 L1505.0,854.9 L1509.0,857.1 L1513.0,859.2 L1517.0,861.4 L1521.0,863.5 L1525.0,865.5 L1529.0,867.2 L1533.0,868.6 L1537.0,869.8 L1541.0,871.1 L1545.0,872.3 L1549.0,873.5 L1553.0,874.8 L1557.0,876.0 L1561.0,877.2 L1565.0,878.5 L1569.0,879.8 L1573.0,881.3 L1577.0,882.8 L1581.0,884.4 L1585.0,886.0 L1589.0,887.6 L1593.0,889.2 L1597.0,890.8 L1601.0,892.4 L1605.0,894.0 L1609.0,895.6 L1613.0,897.3 L1617.0,899.0 L1621.0,900.8 L1625.0,902.6 L1629.0,904.4 L1633.0,906.2 L1637.0,908.0 L1641.0,909.8 L1645.0,911.6 L1649.0,913.3 L1653.0,915.1 L1657.0,916.8 L1661.0,918.2 L1665.0,919.4 L1669.0,920.5 L1673.0,921.6 L1677.0,922.7 L1681.0,923.8 L1685.0,924.8 L1689.0,925.9 L1693.0,927.0 L1697.0,928.1 L1701.0,929.1 L1705.0,930.0 L1706.0,930.5" stroke="#6a86cc"/>
<path d="M341.0,802.3 L345.0,799.4 L349.0,796.6 L353.0,793.7 L357.0,790.8 L361.0,787.9 L365.0,785.0 L369.0,782.1 L373.0,779.1 L377.0,775.8 L381.0,772.3 L385.0,768.7 L389.0,765.2 L393.0,761.6 L397.0,758.2 L401.0,754.9 L405.0,751.7 L409.0,748.6 L413.0,745.4 L417.0,742.3 L421.0,739.2 L425.0,736.1 L429.0,733.1 L433.0,730.1 L437.0,727.1 L441.0,724.1 L445.0,721.4 L449.0,719.1 L453.0,717.0 L457.0,715.0 L461.0,713.0 L465.0,711.0 L469.0,708.9 L473.0,706.7 L477.0,704.3 L481.0,702.1 L485.0,700.1 L489.0,698.4 L493.0,696.8 L497.0,695.2 L501.0,693.5 L505.0,691.8 L509.0,689.9 L513.0,687.7 L517.0,685.4 L521.0,683.1 L525.0,680.9 L529.0,678.6 L533.0,676.6 L537.0,674.8 L541.0,673.2 L545.0,671.6 L549.0,670.0 L553.0,668.5 L557.0,666.9 L561.0,665.1 L565.0,663.0 L569.0,660.6 L573.0,658.0 L577.0,655.3 L581.0,652.7 L585.0,650.1 L589.0,647.7 L593.0,645.7 L597.0,644.0 L601.0,642.5 L605.0,640.9 L609.0,639.4 L613.0,637.9 L617.0,636.4 L621.0,635.0 L625.0,633.8 L629.0,632.6 L633.0,631.3 L637.0,630.1 L641.0,628.9 L645.0,627.7 L649.0,626.5 L653.0,625.3 L657.0,624.1 L661.0,622.9 L665.0,621.8 L669.0,620.6 L673.0,619.5 L677.0,618.4 L681.0,617.3 L685.0,616.3 L689.0,615.2 L693.0,614.1 L697.0,613.0 L701.0,611.9 L705.0,610.8 L709.0,610.0 L713.0,609.2 L717.0,608.6 L721.0,608.0 L725.0,607.4 L729.0,606.7 L733.0,605.7 L737.0,604.6 L741.0,603.4 L745.0,602.2 L749.0,601.1 L753.0,600.1 L757.0,599.4 L761.0,598.9 L765.0,598.4 L769.0,597.9 L773.0,597.4 L777.0,596.9 L781.0,596.4 L785.0,595.9 L789.0,595.4 L793.0,594.9 L797.0,594.4 L801.0,594.1 L805.0,593.8 L809.0,593.5 L813.0,593.2 L817.0,592.9 L821.0,592.6 L825.0,592.5 L829.0,592.9 L833.0,593.4 L837.0,594.1 L841.0,594.7 L845.0,595.4 L849.0,596.0 L853.0,596.7 L857.0,597.3 L861.0,597.9 L865.0,598.5 L869.0,599.0 L873.0,599.5 L877.0,600.0 L881.0,600.4 L885.0,600.6 L889.0,600.5 L893.0,600.1 L897.0,599.5 L901.0,598.9 L905.0,598.3 L909.0,597.7 L913.0,597.1 L917.0,596.5 L921.0,595.9 L925.0,595.3 L929.0,594.6 L933.0,594.1 L937.0,593.7 L941.0,593.6 L945.0,593.7 L949.0,593.9 L953.0,594.1 L957.0,594.4 L961.0,594.9 L965.0,595.6 L969.0,596.6 L973.0,597.5 L977.0,598.5 L981.0,599.5 L985.0,600.4 L989.0,601.4 L993.0,602.4 L997.0,603.3 L1001.0,604.3 L1005.0,605.2 L1009.0,606.2 L1013.0,607.1 L1017.0,608.0 L1021.0,608.7 L1025.0,609.4 L1029.0,610.0 L1033.0,610.7 L1037.0,611.3 L1041.0,612.0 L1045.0,612.6 L1049.0,613.2 L1053.0,613.5 L1057.0,613.8 L1061.0,614.0 L1065.0,614.2 L1069.0,614.5 L1073.0,614.7 L1077.0,614.9 L1081.0,615.2 L1085.0,615.5 L1089.0,616.1 L1093.0,617.2 L1097.0,618.7 L1101.0,620.2 L1105.0,621.7 L1109.0,623.3 L1113.0,624.8 L1117.0,626.3 L1121.0,627.8 L1125.0,629.4 L1129.0,630.9 L1133.0,632.5 L1137.0,634.1 L1141.0,635.7 L1145.0,637.3 L1149.0,638.9 L1153.0,640.5 L1157.0,642.1 L1161.0,643.8 L1165.0,645.4 L1169.0,647.1 L1173.0,648.9 L1177.0,650.9 L1181.0,653.0 L1185.0,655.1 L1189.0,657.1 L1193.0,659.0 L1197.0,660.6 L1201.0,662.0 L1205.0,663.3 L1209.0,664.5 L1213.0,665.7 L1217.0,667.0 L1221.0,668.3 L1225.0,669.7 L1229.0,671.2 L1233.0,672.8 L1237.0,674.4 L1241.0,675.9 L1245.0,677.5 L1249.0,679.1 L1253.0,680.8 L1257.0,682.7 L1261.0,684.8 L1265.0,687.2 L1269.0,689.6 L1273.0,692.0 L1277.0,694.3 L1281.0,696.4 L1285.0,698.3 L1289.0,700.0 L1293.0,701.8 L1297.0,703.6 L1301.0,705.3 L1305.0,707.1 L1309.0,708.8 L1313.0,710.6 L1317.0,712.4 L1321.0,714.1 L1325.0,715.9 L1329.0,717.6 L1333.0,719.3 L1337.0,721.0 L1341.0,722.6 L1345.0,724.1 L1349.0,725.7 L1353.0,727.3 L1357.0,728.8 L1361.0,730.4 L1365.0,731.9 L1369.0,733.5 L1373.0,735.1 L1377.0,736.7 L1381.0,738.6 L1385.0,740.8 L1389.0,743.2 L1393.0,745.6 L1397.0,748.0 L1401.0,750.4 L1405.0,752.8 L1409.0,755.2 L1413.0,757.7 L1417.0,760.2 L1421.0,762.8 L1425.0,765.4 L1429.0,767.9 L1433.0,770.4 L1437.0,772.7 L1441.0,774.6 L1445.0,776.4 L1449.0,778.2 L1453.0,780.0 L1457.0,781.8 L1461.0,783.6 L1465.0,785.5 L1469.0,787.3 L1473.0,789.3 L1477.0,791.2 L1481.0,793.1 L1485.0,794.8 L1489.0,796.4 L1493.0,797.9 L1497.0,799.5 L1501.0,801.1 L1505.0,802.6 L1509.0,804.2 L1513.0,805.7 L1517.0,807.3 L1521.0,808.8 L1525.0,810.4 L1529.0,812.0 L1533.0,813.7 L1537.0,815.3 L1541.0,817.0 L1545.0,818.6 L1549.0,820.2 L1553.0,821.9 L1557.0,823.5 L1561.0,825.2 L1565.0,826.8 L1569.0,828.5 L1573.0,830.1 L1577.0,831.7 L1581.0,833.3 L1585.0,834.9 L1589.0,836.5 L1593.0,838.1 L1597.0,839.7 L1601.0,841.3 L1605.0,842.9 L1609.0,844.6 L1613.0,846.3 L1617.0,848.2 L1621.0,850.2 L1625.0,852.3 L1629.0,854.4 L1633.0,856.6 L1637.0,858.7 L1641.0,860.8 L1645.0,862.9 L1649.0,864.9 L1653.0,866.8 L1657.0,868.7 L1661.0,870.6 L1665.0,872.5 L1669.0,874.3 L1673.0,876.2 L1677.0,878.1 L1681.0,879.8 L1685.0,881.4 L1689.0,882.8 L1693.0,884.2 L1697.0,885.6 L1701.0,887.0 L1705.0,888.1 L1706.0,888.8" stroke="#4170c6"/>
<path d="M341.0,762.7 L345.0,758.5 L349.0,754.3 L353.0,750.1 L357.0,745.9 L361.0,741.7 L365.0,737.5 L369.0,733.4 L373.0,729.6 L377.0,726.2 L381.0,723.0 L385.0,719.8 L389.0,716.6 L393.0,713.6 L397.0,710.8 L401.0,708.5 L405.0,706.5 L409.0,704.4 L413.0,702.4 L417.0,700.4 L421.0,698.0 L425.0,695.1 L429.0,692.0 L433.0,688.8 L437.0,685.6 L441.0,682.4 L445.0,679.3 L449.0,676.2 L453.0,673.2 L457.0,670.2 L461.0,667.2 L465.0,664.2 L469.0,661.1 L473.0,657.8 L477.0,654.4 L481.0,651.1 L485.0,647.7 L489.0,644.3 L493.0,641.1 L497.0,638.1 L501.0,635.4 L505.0,632.5 L509.0,629.1 L513.0,625.3 L517.0,621.4 L521.0,618.2 L525.0,615.7 L529.0,613.5 L533.0,611.2 L537.0,608.7 L541.0,606.1 L545.0,603.4 L549.0,600.7 L553.0,598.0 L557.0,595.4 L561.0,592.9 L565.0,590.8 L569.0,589.1 L573.0,587.6 L577.0,586.1 L581.0,584.6 L585.0,583.2 L589.0,581.7 L593.0,580.2 L597.0,578.5 L601.0,576.5 L605.0,574.3 L609.0,572.1 L613.0,569.9 L617.0,567.7 L621.0,565.7 L625.0,563.9 L629.0,562.4 L633.0,561.1 L637.0,559.4 L641.0,557.2 L645.0,554.8 L649.0,552.3 L653.0,549.8 L657.0,547.3 L661.0,544.7 L665.0,542.2 L669.0,539.6 L673.0,537.0 L677.0,534.4 L681.0,531.8 L685.0,529.2 L689.0,526.6 L693.0,524.0 L697.0,521.4 L701.0,518.9 L705.0,516.5 L709.0,514.7 L713.0,513.5 L717.0,512.6 L721.0,511.8 L725.0,511.0 L729.0,510.4 L733.0,510.0 L737.0,509.8 L741.0,509.7 L745.0,509.6 L749.0,509.5 L753.0,509.4 L757.0,509.3 L761.0,509.1 L765.0,509.0 L769.0,508.8 L773.0,508.3 L777.0,507.8 L781.0,507.1 L785.0,506.5 L789.0,505.9 L793.0,505.2 L797.0,504.6 L801.0,504.0 L805.0,503.3 L809.0,502.7 L813.0,502.0 L817.0,501.4 L821.0,500.8 L825.0,500.3 L829.0,499.8 L833.0,499.2 L837.0,498.7 L841.0,498.2 L845.0,497.7 L849.0,497.3 L853.0,497.1 L857.0,497.4 L861.0,497.6 L865.0,497.8 L869.0,497.9 L873.0,498.0 L877.0,498.2 L881.0,498.4 L885.0,498.6 L889.0,498.8 L893.0,499.0 L897.0,499.1 L901.0,499.3 L905.0,499.5 L909.0,499.7 L913.0,499.9 L917.0,500.1 L921.0,500.3 L925.0,500.6 L929.0,500.8 L933.0,501.0 L937.0,501.3 L941.0,501.5 L945.0,501.7 L949.0,502.0 L953.0,502.2 L957.0,502.5 L961.0,502.7 L965.0,503.0 L969.0,503.3 L973.0,503.7 L977.0,504.4 L981.0,505.0 L985.0,505.7 L989.0,506.4 L993.0,507.1 L997.0,507.8 L1001.0,508.5 L1005.0,509.2 L1009.0,509.9 L1013.0,510.6 L1017.0,511.2 L1021.0,511.8 L1025.0,512.3 L1029.0,512.8 L1033.0,513.3 L1037.0,513.8 L1041.0,514.5 L1045.0,515.6 L1049.0,517.1 L1053.0,518.6 L1057.0,520.1 L1061.0,521.7 L1065.0,523.2 L1069.0,524.6 L1073.0,525.8 L1077.0,526.7 L1081.0,527.6 L1085.0,528.4 L1089.0,529.2 L1093.0,530.1 L1097.0,531.3 L1101.0,532.6 L1105.0,533.9 L1109.0,535.2 L1113.0,536.5 L1117.0,537.9 L1121.0,539.2 L1125.0,540.5 L1129.0,541.9 L1133.0,543.2 L1137.0,544.5 L1141.0,545.9 L1145.0,547.2 L1149.0,548.5 L1153.0,549.8 L1157.0,551.2 L1161.0,552.5 L1165.0,553.8 L1169.0,555.2 L1173.0,556.5 L1177.0,557.8 L1181.0,559.2 L1185.0,560.5 L1189.0,562.0 L1193.0,563.5 L1197.0,565.1 L1201.0,566.6 L1205.0,567.9 L1209.0,569.3 L1213.0,570.6 L1217.0,572.0 L1221.0,573.3 L1225.0,574.7 L1229.0,576.1 L1233.0,577.7 L1237.0,579.9 L1241.0,582.4 L1245.0,585.2 L1249.0,588.0 L1253.0,590.8 L1257.0,593.6 L1261.0,596.4 L1265.0,599.2 L1269.0,602.0 L1273.0,604.8 L1277.0,607.5 L1281.0,610.2 L1285.0,612.8 L1289.0,615.4 L1293.0,618.0 L1297.0,620.5 L1301.0,623.1 L1305.0,625.7 L1309.0,628.3 L1313.0,630.8 L1317.0,633.4 L1321.0,636.0 L1325.0,638.4 L1329.0,640.8 L1333.0,643.0 L1337.0,645.2 L1341.0,647.4 L1345.0,649.6 L1349.0,651.8 L1353.0,654.0 L1357.0,656.2 L1361.0,658.4 L1365.0,660.6 L1369.0,662.7 L1373.0,664.6 L1377.0,666.5 L1381.0,668.4 L1385.0,670.3 L1389.0,672.1 L1393.0,674.0 L1397.0,675.9 L1401.0,677.8 L1405.0,679.8 L1409.0,681.8 L1413.0,683.9 L1417.0,685.9 L1421.0,688.0 L1425.0,690.0 L1429.0,692.0 L1433.0,694.0 L1437.0,696.0 L1441.0,697.9 L1445.0,699.8 L1449.0,701.6 L1453.0,703.5 L1457.0,705.4 L1461.0,707.2 L1465.0,709.1 L1469.0,711.0 L1473.0,712.9 L1477.0,715.0 L1481.0,717.5 L1485.0,720.4 L1489.0,723.5 L1493.0,726.7 L1497.0,729.8 L1501.0,732.9 L1505.0,736.0 L1509.0,738.7 L1513.0,740.9 L1517.0,742.6 L1521.0,744.1 L1525.0,745.7 L1529.0,747.5 L1533.0,749.5 L1537.0,751.7 L1541.0,754.0 L1545.0,756.2 L1549.0,758.3 L1553.0,760.4 L1557.0,762.4 L1561.0,764.4 L1565.0,766.4 L1569.0,768.4 L1573.0,770.4 L1577.0,772.4 L1581.0,774.4 L1585.0,776.4 L1589.0,778.4 L1593.0,780.6 L1597.0,782.9 L1601.0,785.3 L1605.0,787.7 L1609.0,790.1 L1613.0,792.5 L1617.0,794.9 L1621.0,797.3 L1625.0,799.7 L1629.0,802.3 L1633.0,804.9 L1637.0,807.6 L1641.0,810.3 L1645.0,812.9 L1649.0,815.6 L1653.0,818.2 L1657.0,820.7 L1661.0,822.9 L1665.0,824.7 L1669.0,826.4 L1673.0,828.1 L1677.0,829.7 L1681.0,831.3 L1685.0,832.7 L1689.0,833.7 L1693.0,834.5 L1697.0,835.1 L1701.0,835.7 L1705.0,836.2 L1706.0,836.6" stroke="#3f6dbd"/>
<path d="M341.0,718.7 L345.0,715.6 L349.0,712.4 L353.0,709.3 L357.0,706.2 L361.0,703.1 L365.0,699.9 L369.0,696.7 L373.0,693.1 L377.0,689.1 L381.0,685.0 L385.0,680.8 L389.0,676.6 L393.0,672.4 L397.0,667.9 L401.0,663.2 L405.0,658.4 L409.0,653.6 L413.0,648.8 L417.0,644.0 L421.0,639.3 L425.0,634.7 L429.0,630.1 L433.0,625.7 L437.0,621.3 L441.0,617.1 L445.0,613.3 L449.0,610.0 L453.0,607.1 L457.0,604.3 L461.0,601.4 L465.0,598.4 L469.0,595.3 L473.0,592.1 L477.0,589.0 L481.0,586.1 L485.0,583.5 L489.0,581.1 L493.0,578.9 L497.0,576.7 L501.0,574.4 L505.0,572.0 L509.0,569.3 L513.0,566.1 L517.0,562.9 L521.0,559.5 L525.0,556.2 L529.0,552.9 L533.0,549.5 L537.0,546.2 L541.0,542.9 L545.0,539.5 L549.0,536.2 L553.0,532.9 L557.0,529.5 L561.0,526.2 L565.0,522.9 L569.0,519.6 L573.0,516.3 L577.0,513.1 L581.0,510.0 L585.0,506.9 L589.0,503.8 L593.0,500.7 L597.0,497.7 L601.0,494.7 L605.0,491.9 L609.0,489.4 L613.0,486.9 L617.0,484.3 L621.0,481.5 L625.0,478.5 L629.0,475.4 L633.0,472.3 L637.0,469.3 L641.0,466.3 L645.0,463.5 L649.0,460.6 L653.0,457.7 L657.0,454.9 L661.0,452.3 L665.0,450.2 L669.0,448.6 L673.0,447.2 L677.0,445.9 L681.0,444.6 L685.0,443.3 L689.0,441.9 L693.0,440.6 L697.0,439.2 L701.0,437.9 L705.0,436.7 L709.0,435.6 L713.0,434.8 L717.0,434.2 L721.0,433.6 L725.0,432.9 L729.0,432.0 L733.0,430.5 L737.0,428.7 L741.0,426.7 L745.0,424.8 L749.0,422.8 L753.0,420.9 L757.0,419.3 L761.0,417.8 L765.0,416.3 L769.0,414.9 L773.0,413.5 L777.0,412.1 L781.0,410.7 L785.0,409.3 L789.0,407.9 L793.0,406.5 L797.0,405.2 L801.0,403.9 L805.0,402.8 L809.0,401.8 L813.0,400.8 L817.0,399.8 L821.0,398.8 L825.0,397.8 L829.0,397.0 L833.0,396.3 L837.0,395.8 L841.0,395.5 L845.0,395.5 L849.0,395.5 L853.0,395.5 L857.0,395.6 L861.0,396.0 L865.0,396.7 L869.0,397.6 L873.0,398.2 L877.0,398.6 L881.0,398.7 L885.0,398.8 L889.0,398.9 L893.0,399.0 L897.0,399.1 L901.0,399.5 L905.0,400.0 L909.0,400.7 L913.0,401.4 L917.0,402.1 L921.0,402.8 L925.0,403.5 L929.0,404.3 L933.0,405.0 L937.0,405.7 L941.0,406.4 L945.0,407.1 L949.0,407.5 L953.0,407.8 L957.0,407.8 L961.0,407.8 L965.0,407.8 L969.0,407.8 L973.0,407.8 L977.0,407.8 L981.0,407.8 L985.0,407.8 L989.0,407.8 L993.0,407.8 L997.0,407.9 L1001.0,407.9 L1005.0,408.0 L1009.0,408.1 L1013.0,408.2 L1017.0,408.2 L1021.0,408.2 L1025.0,408.1 L1029.0,408.0 L1033.0,408.2 L1037.0,408.9 L1041.0,409.8 L1045.0,410.8 L1049.0,411.8 L1053.0,412.9 L1057.0,413.9 L1061.0,415.2 L1065.0,416.6 L1069.0,418.3 L1073.0,420.1 L1077.0,421.9 L1081.0,423.7 L1085.0,425.5 L1089.0,427.3 L1093.0,429.1 L1097.0,430.9 L1101.0,432.7 L1105.0,434.5 L1109.0,436.4 L1113.0,438.3 L1117.0,440.2 L1121.0,442.1 L1125.0,444.0 L1129.0,445.9 L1133.0,447.8 L1137.0,449.7 L1141.0,451.6 L1145.0,453.4 L1149.0,455.3 L1153.0,457.0 L1157.0,458.6 L1161.0,460.1 L1165.0,461.6 L1169.0,463.1 L1173.0,464.7 L1177.0,466.2 L1181.0,467.7 L1185.0,469.2 L1189.0,470.8 L1193.0,472.4 L1197.0,474.0 L1201.0,475.7 L1205.0,477.4 L1209.0,479.3 L1213.0,481.3 L1217.0,483.5 L1221.0,485.8 L1225.0,488.0 L1229.0,490.3 L1233.0,492.5 L1237.0,494.6 L1241.0,496.6 L1245.0,498.6 L1249.0,500.6 L1253.0,502.6 L1257.0,504.6 L1261.0,506.6 L1265.0,508.6 L1269.0,510.6 L1273.0,512.7 L1277.0,514.8 L1281.0,517.1 L1285.0,519.6 L1289.0,522.2 L1293.0,524.7 L1297.0,527.3 L1301.0,529.9 L1305.0,532.5 L1309.0,535.1 L1313.0,537.7 L1317.0,540.3 L1321.0,542.9 L1325.0,545.6 L1329.0,548.4 L1333.0,551.2 L1337.0,554.0 L1341.0,556.8 L1345.0,559.6 L1349.0,562.4 L1353.0,565.2 L1357.0,568.0 L1361.0,570.8 L1365.0,573.7 L1369.0,576.6 L1373.0,579.5 L1377.0,582.5 L1381.0,585.5 L1385.0,588.5 L1389.0,591.5 L1393.0,594.5 L1397.0,597.5 L1401.0,600.5 L1405.0,603.5 L1409.0,606.5 L1413.0,609.3 L1417.0,612.0 L1421.0,614.7 L1425.0,617.3 L1429.0,620.0 L1433.0,622.6 L1437.0,625.2 L1441.0,627.8 L1445.0,630.5 L1449.0,633.1 L1453.0,635.7 L1457.0,638.3 L1461.0,640.7 L1465.0,643.1 L1469.0,645.5 L1473.0,647.8 L1477.0,650.2 L1481.0,652.5 L1485.0,654.8 L1489.0,657.0 L1493.0,658.9 L1497.0,660.6 L1501.0,662.6 L1505.0,665.1 L1509.0,667.8 L1513.0,670.6 L1517.0,673.4 L1521.0,675.9 L1525.0,678.2 L1529.0,680.0 L1533.0,681.5 L1537.0,682.8 L1541.0,684.6 L1545.0,687.0 L1549.0,689.9 L1553.0,692.9 L1557.0,695.9 L1561.0,698.8 L1565.0,701.8 L1569.0,704.7 L1573.0,707.6 L1577.0,710.5 L1581.0,713.5 L1585.0,716.4 L1589.0,719.2 L1593.0,722.1 L1597.0,724.8 L1601.0,727.6 L1605.0,730.4 L1609.0,733.1 L1613.0,735.9 L1617.0,738.6 L1621.0,741.1 L1625.0,743.4 L1629.0,745.6 L1633.0,747.8 L1637.0,750.0 L1641.0,752.3 L1645.0,754.5 L1649.0,756.7 L1653.0,758.9 L1657.0,761.1 L1661.0,763.2 L1665.0,765.2 L1669.0,767.2 L1673.0,769.3 L1677.0,771.3 L1681.0,773.6 L1685.0,776.4 L1689.0,779.4 L1693.0,782.4 L1697.0,785.5 L1701.0,788.4 L1705.0,790.8 L1706.0,792.4" stroke="#3d6ab4"/>
<path d="M341.0,687.0 L345.0,682.3 L349.0,677.7 L353.0,673.0 L357.0,668.3 L361.0,663.6 L365.0,658.9 L369.0,654.3 L373.0,649.8 L377.0,645.4 L381.0,641.0 L385.0,636.6 L389.0,632.2 L393.0,627.8 L397.0,623.4 L401.0,619.2 L405.0,614.9 L409.0,610.7 L413.0,606.5 L417.0,602.3 L421.0,597.9 L425.0,593.2 L429.0,588.5 L433.0,583.7 L437.0,578.9 L441.0,574.1 L445.0,569.6 L449.0,565.4 L453.0,561.4 L457.0,557.5 L461.0,553.6 L465.0,549.7 L469.0,545.8 L473.0,541.9 L477.0,538.0 L481.0,534.0 L485.0,529.9 L489.0,525.7 L493.0,521.6 L497.0,517.8 L501.0,514.4 L505.0,511.5 L509.0,508.6 L513.0,505.8 L517.0,503.0 L521.0,500.2 L525.0,497.4 L529.0,494.7 L533.0,492.0 L537.0,489.5 L541.0,487.0 L545.0,484.5 L549.0,482.0 L553.0,479.5 L557.0,476.8 L561.0,473.4 L565.0,469.3 L569.0,464.7 L573.0,460.1 L577.0,455.7 L581.0,451.9 L585.0,448.4 L589.0,445.2 L593.0,442.1 L597.0,439.2 L601.0,436.5 L605.0,433.9 L609.0,431.3 L613.0,428.7 L617.0,426.3 L621.0,423.8 L625.0,421.4 L629.0,418.8 L633.0,416.0 L637.0,413.1 L641.0,410.3 L645.0,407.8 L649.0,405.4 L653.0,403.0 L657.0,400.6 L661.0,398.3 L665.0,395.9 L669.0,393.6 L673.0,391.2 L677.0,388.8 L681.0,386.2 L685.0,383.3 L689.0,380.4 L693.0,377.4 L697.0,374.4 L701.0,371.6 L705.0,369.2 L709.0,367.2 L713.0,365.5 L717.0,363.9 L721.0,362.3 L725.0,360.8 L729.0,359.2 L733.0,357.8 L737.0,356.4 L741.0,355.0 L745.0,353.5 L749.0,352.2 L753.0,350.8 L757.0,349.6 L761.0,348.4 L765.0,347.2 L769.0,345.9 L773.0,344.7 L777.0,343.2 L781.0,341.4 L785.0,339.4 L789.0,337.4 L793.0,335.5 L797.0,333.5 L801.0,331.8 L805.0,330.4 L809.0,329.2 L813.0,328.0 L817.0,326.8 L821.0,325.7 L825.0,324.8 L829.0,324.2 L833.0,323.7 L837.0,323.3 L841.0,322.9 L845.0,322.6 L849.0,322.3 L853.0,322.2 L857.0,322.2 L861.0,322.2 L865.0,322.2 L869.0,322.2 L873.0,322.2 L877.0,322.2 L881.0,322.2 L885.0,322.2 L889.0,322.2 L893.0,322.2 L897.0,322.2 L901.0,322.2 L905.0,322.2 L909.0,322.1 L913.0,322.1 L917.0,322.1 L921.0,322.0 L925.0,322.0 L929.0,322.0 L933.0,322.0 L937.0,322.0 L941.0,322.0 L945.0,322.0 L949.0,322.0 L953.0,322.0 L957.0,322.0 L961.0,322.1 L965.0,322.4 L969.0,322.9 L973.0,323.5 L977.0,324.2 L981.0,324.9 L985.0,325.7 L989.0,326.5 L993.0,327.3 L997.0,328.1 L1001.0,328.8 L1005.0,329.4 L1009.0,330.0 L1013.0,330.6 L1017.0,331.1 L1021.0,331.4 L1025.0,331.5 L1029.0,331.7 L1033.0,332.2 L1037.0,333.0 L1041.0,333.7 L1045.0,334.5 L1049.0,335.3 L1053.0,336.1 L1057.0,336.9 L1061.0,337.8 L1065.0,339.0 L1069.0,340.8 L1073.0,342.9 L1077.0,345.0 L1081.0,347.1 L1085.0,349.3 L1089.0,351.4 L1093.0,353.5 L1097.0,355.5 L1101.0,357.4 L1105.0,359.1 L1109.0,360.8 L1113.0,362.4 L1117.0,364.1 L1121.0,365.8 L1125.0,367.4 L1129.0,369.0 L1133.0,370.4 L1137.0,371.6 L1141.0,372.7 L1145.0,373.8 L1149.0,374.9 L1153.0,376.2 L1157.0,377.6 L1161.0,379.2 L1165.0,380.8 L1169.0,382.4 L1173.0,383.8 L1177.0,385.0 L1181.0,386.2 L1185.0,387.5 L1189.0,389.0 L1193.0,391.1 L1197.0,393.6 L1201.0,396.2 L1205.0,398.9 L1209.0,401.6 L1213.0,404.2 L1217.0,406.9 L1221.0,409.5 L1225.0,412.2 L1229.0,415.1 L1233.0,418.3 L1237.0,422.1 L1241.0,426.1 L1245.0,430.1 L1249.0,434.1 L1253.0,437.7 L1257.0,440.6 L1261.0,442.8 L1265.0,444.6 L1269.0,446.3 L1273.0,448.0 L1277.0,449.7 L1281.0,451.5 L1285.0,453.6 L1289.0,456.3 L1293.0,459.5 L1297.0,462.9 L1301.0,465.9 L1305.0,468.2 L1309.0,469.9 L1313.0,471.6 L1317.0,473.2 L1321.0,474.9 L1325.0,476.6 L1329.0,478.6 L1333.0,481.4 L1337.0,484.7 L1341.0,487.8 L1345.0,490.1 L1349.0,492.1 L1353.0,494.0 L1357.0,496.1 L1361.0,498.5 L1365.0,501.3 L1369.0,504.1 L1373.0,507.0 L1377.0,510.1 L1381.0,513.5 L1385.0,517.2 L1389.0,521.2 L1393.0,525.1 L1397.0,529.0 L1401.0,532.8 L1405.0,536.5 L1409.0,540.3 L1413.0,544.1 L1417.0,547.9 L1421.0,551.7 L1425.0,555.5 L1429.0,559.2 L1433.0,562.8 L1437.0,565.9 L1441.0,568.7 L1445.0,571.3 L1449.0,573.9 L1453.0,576.5 L1457.0,579.1 L1461.0,581.7 L1465.0,584.3 L1469.0,586.9 L1473.0,589.5 L1477.0,592.1 L1481.0,594.7 L1485.0,597.3 L1489.0,599.9 L1493.0,602.6 L1497.0,605.2 L1501.0,607.8 L1505.0,610.4 L1509.0,613.1 L1513.0,615.7 L1517.0,618.2 L1521.0,620.6 L1525.0,622.8 L1529.0,624.8 L1533.0,626.6 L1537.0,628.5 L1541.0,630.8 L1545.0,633.7 L1549.0,637.1 L1553.0,640.5 L1557.0,643.9 L1561.0,647.1 L1565.0,650.0 L1569.0,652.6 L1573.0,655.0 L1577.0,657.4 L1581.0,659.7 L1585.0,662.0 L1589.0,664.2 L1593.0,666.3 L1597.0,668.5 L1601.0,670.6 L1605.0,672.9 L1609.0,675.4 L1613.0,678.1 L1617.0,680.7 L1621.0,683.5 L1625.0,686.4 L1629.0,689.7 L1633.0,693.2 L1637.0,696.8 L1641.0,700.0 L1645.0,702.8 L1649.0,705.3 L1653.0,707.7 L1657.0,710.2 L1661.0,712.8 L1665.0,715.5 L1669.0,718.3 L1673.0,721.1 L1677.0,723.8 L1681.0,726.4 L1685.0,728.7 L1689.0,730.9 L1693.0,733.1 L1697.0,735.3 L1701.0,737.4 L1705.0,739.2 L1706.0,740.3" stroke="#3a63aa"/>
<path d="M341.0,665.7 L345.0,660.7 L349.0,655.8 L353.0,650.8 L357.0,645.9 L361.0,640.9 L365.0,636.0 L369.0,631.0 L373.0,626.0 L377.0,621.1 L381.0,616.1 L385.0,611.1 L389.0,606.1 L393.0,601.2 L397.0,596.5 L401.0,592.1 L405.0,587.8 L409.0,583.6 L413.0,579.4 L417.0,575.2 L421.0,571.2 L425.0,567.5 L429.0,563.8 L433.0,560.2 L437.0,556.6 L441.0,553.0 L445.0,549.0 L449.0,544.5 L453.0,539.6 L457.0,534.6 L461.0,529.5 L465.0,524.6 L469.0,519.7 L473.0,515.0 L477.0,510.5 L481.0,506.1 L485.0,501.7 L489.0,497.2 L493.0,492.6 L497.0,487.8 L501.0,483.1 L505.0,478.4 L509.0,473.6 L513.0,468.8 L517.0,464.1 L521.0,459.8 L525.0,455.9 L529.0,452.2 L533.0,448.7 L537.0,445.2 L541.0,442.1 L545.0,439.0 L549.0,436.0 L553.0,432.7 L557.0,429.2 L561.0,425.5 L565.0,421.8 L569.0,418.2 L573.0,414.9 L577.0,411.8 L581.0,408.7 L585.0,405.7 L589.0,402.6 L593.0,399.4 L597.0,396.3 L601.0,393.2 L605.0,390.3 L609.0,387.7 L613.0,385.3 L617.0,382.8 L621.0,380.3 L625.0,377.6 L629.0,374.9 L633.0,372.1 L637.0,369.2 L641.0,366.2 L645.0,362.9 L649.0,359.6 L653.0,356.3 L657.0,353.0 L661.0,349.6 L665.0,346.0 L669.0,342.3 L673.0,338.5 L677.0,334.9 L681.0,331.6 L685.0,328.9 L689.0,326.5 L693.0,324.3 L697.0,322.4 L701.0,320.5 L705.0,318.7 L709.0,316.9 L713.0,315.2 L717.0,313.5 L721.0,312.0 L725.0,310.6 L729.0,309.2 L733.0,307.8 L737.0,306.4 L741.0,305.1 L745.0,303.8 L749.0,302.6 L753.0,301.4 L757.0,300.2 L761.0,299.0 L765.0,297.8 L769.0,296.5 L773.0,295.2 L777.0,293.8 L781.0,292.4 L785.0,290.9 L789.0,289.4 L793.0,287.8 L797.0,286.3 L801.0,284.8 L805.0,283.5 L809.0,282.3 L813.0,281.1 L817.0,279.9 L821.0,278.8 L825.0,277.8 L829.0,277.0 L833.0,276.4 L837.0,275.8 L841.0,275.2 L845.0,274.6 L849.0,274.1 L853.0,273.7 L857.0,273.2 L861.0,272.8 L865.0,272.4 L869.0,272.0 L873.0,271.6 L877.0,271.1 L881.0,270.5 L885.0,270.0 L889.0,269.5 L893.0,268.9 L897.0,268.4 L901.0,268.0 L905.0,267.6 L909.0,267.3 L913.0,267.0 L917.0,266.6 L921.0,266.3 L925.0,266.0 L929.0,265.7 L933.0,265.5 L937.0,265.2 L941.0,265.0 L945.0,264.9 L949.0,265.0 L953.0,265.2 L957.0,265.5 L961.0,265.9 L965.0,266.5 L969.0,267.2 L973.0,268.1 L977.0,269.0 L981.0,269.9 L985.0,270.8 L989.0,271.6 L993.0,272.2 L997.0,272.8 L1001.0,273.4 L1005.0,274.0 L1009.0,274.5 L1013.0,275.1 L1017.0,275.7 L1021.0,276.3 L1025.0,277.1 L1029.0,277.9 L1033.0,278.8 L1037.0,279.8 L1041.0,280.7 L1045.0,281.7 L1049.0,282.6 L1053.0,283.6 L1057.0,284.6 L1061.0,285.5 L1065.0,286.5 L1069.0,287.4 L1073.0,288.4 L1077.0,289.4 L1081.0,290.4 L1085.0,291.5 L1089.0,292.9 L1093.0,294.5 L1097.0,296.2 L1101.0,298.0 L1105.0,299.7 L1109.0,301.5 L1113.0,303.3 L1117.0,305.0 L1121.0,306.8 L1125.0,308.5 L1129.0,310.3 L1133.0,312.1 L1137.0,313.8 L1141.0,315.7 L1145.0,317.7 L1149.0,319.9 L1153.0,322.1 L1157.0,324.4 L1161.0,326.6 L1165.0,328.9 L1169.0,331.1 L1173.0,333.3 L1177.0,335.6 L1181.0,337.8 L1185.0,340.0 L1189.0,342.3 L1193.0,344.5 L1197.0,346.6 L1201.0,348.4 L1205.0,350.1 L1209.0,351.7 L1213.0,353.3 L1217.0,354.9 L1221.0,356.5 L1225.0,358.2 L1229.0,360.2 L1233.0,362.8 L1237.0,366.1 L1241.0,369.7 L1245.0,373.4 L1249.0,376.9 L1253.0,380.1 L1257.0,382.8 L1261.0,385.4 L1265.0,388.4 L1269.0,392.0 L1273.0,396.0 L1277.0,400.0 L1281.0,404.1 L1285.0,408.1 L1289.0,411.5 L1293.0,414.1 L1297.0,416.1 L1301.0,418.4 L1305.0,421.0 L1309.0,423.7 L1313.0,426.4 L1317.0,429.0 L1321.0,431.7 L1325.0,434.4 L1329.0,437.0 L1333.0,439.7 L1337.0,442.5 L1341.0,445.2 L1345.0,447.9 L1349.0,450.4 L1353.0,452.9 L1357.0,455.5 L1361.0,458.0 L1365.0,460.5 L1369.0,462.9 L1373.0,465.1 L1377.0,467.2 L1381.0,469.3 L1385.0,471.4 L1389.0,473.6 L1393.0,475.7 L1397.0,477.9 L1401.0,480.5 L1405.0,483.5 L1409.0,486.9 L1413.0,490.6 L1417.0,494.6 L1421.0,498.7 L1425.0,502.6 L1429.0,506.2 L1433.0,509.6 L1437.0,512.9 L1441.0,516.3 L1445.0,520.1 L1449.0,524.4 L1453.0,528.8 L1457.0,532.8 L1461.0,536.0 L1465.0,538.7 L1469.0,541.3 L1473.0,543.9 L1477.0,546.5 L1481.0,549.1 L1485.0,551.7 L1489.0,554.3 L1493.0,556.9 L1497.0,559.6 L1501.0,562.7 L1505.0,566.4 L1509.0,570.5 L1513.0,574.7 L1517.0,578.7 L1521.0,582.1 L1525.0,584.8 L1529.0,586.9 L1533.0,588.7 L1537.0,590.4 L1541.0,592.4 L1545.0,594.9 L1549.0,597.7 L1553.0,600.6 L1557.0,603.6 L1561.0,606.5 L1565.0,609.4 L1569.0,612.4 L1573.0,615.3 L1577.0,618.3 L1581.0,621.3 L1585.0,624.5 L1589.0,627.8 L1593.0,631.2 L1597.0,634.7 L1601.0,638.1 L1605.0,641.2 L1609.0,643.9 L1613.0,646.4 L1617.0,648.8 L1621.0,651.2 L1625.0,653.7 L1629.0,656.4 L1633.0,659.3 L1637.0,662.2 L1641.0,665.2 L1645.0,668.0 L1649.0,670.5 L1653.0,672.8 L1657.0,675.0 L1661.0,677.1 L1665.0,679.3 L1669.0,681.5 L1673.0,683.8 L1677.0,686.3 L1681.0,689.4 L1685.0,693.5 L1689.0,698.1 L1693.0,702.5 L1697.0,706.3 L1701.0,709.7 L1705.0,712.5 L1706.0,714.3" stroke="#3459a2"/>
<path d="M341.0,643.2 L345.0,638.7 L349.0,634.3 L353.0,629.8 L357.0,625.2 L361.0,620.4 L365.0,615.4 L369.0,610.1 L373.0,604.5 L377.0,599.0 L381.0,593.7 L385.0,588.6 L389.0,583.5 L393.0,578.2 L397.0,573.1 L401.0,568.6 L405.0,564.6 L409.0,560.5 L413.0,556.3 L417.0,551.7 L421.0,546.7 L425.0,541.2 L429.0,535.5 L433.0,529.8 L437.0,524.4 L441.0,519.1 L445.0,513.9 L449.0,508.7 L453.0,503.5 L457.0,498.5 L461.0,494.0 L465.0,489.7 L469.0,485.5 L473.0,481.3 L477.0,477.2 L481.0,473.3 L485.0,469.5 L489.0,465.8 L493.0,462.0 L497.0,457.9 L501.0,453.7 L505.0,449.3 L509.0,444.9 L513.0,440.6 L517.0,436.4 L521.0,432.2 L525.0,428.0 L529.0,423.9 L533.0,419.8 L537.0,415.8 L541.0,411.8 L545.0,407.7 L549.0,403.6 L553.0,399.4 L557.0,395.2 L561.0,391.0 L565.0,387.0 L569.0,383.0 L573.0,378.9 L577.0,374.6 L581.0,370.1 L585.0,365.7 L589.0,361.2 L593.0,356.9 L597.0,352.7 L601.0,348.6 L605.0,344.5 L609.0,340.5 L613.0,336.4 L617.0,332.4 L621.0,328.4 L625.0,324.4 L629.0,320.5 L633.0,316.7 L637.0,313.1 L641.0,309.5 L645.0,306.0 L649.0,302.6 L653.0,299.6 L657.0,297.1 L661.0,294.9 L665.0,292.6 L669.0,290.4 L673.0,288.2 L677.0,285.9 L681.0,283.4 L685.0,280.7 L689.0,278.1 L693.0,275.4 L697.0,272.7 L701.0,270.1 L705.0,267.6 L709.0,265.2 L713.0,263.0 L717.0,261.0 L721.0,259.0 L725.0,257.0 L729.0,255.0 L733.0,253.0 L737.0,251.0 L741.0,249.0 L745.0,247.1 L749.0,245.2 L753.0,243.4 L757.0,241.6 L761.0,239.9 L765.0,238.1 L769.0,236.3 L773.0,234.6 L777.0,233.2 L781.0,232.1 L785.0,231.2 L789.0,230.4 L793.0,229.6 L797.0,228.9 L801.0,228.3 L805.0,227.7 L809.0,227.1 L813.0,226.5 L817.0,225.9 L821.0,225.3 L825.0,224.8 L829.0,224.2 L833.0,223.7 L837.0,223.2 L841.0,222.8 L845.0,222.5 L849.0,222.4 L853.0,222.3 L857.0,222.2 L861.0,222.2 L865.0,222.2 L869.0,222.2 L873.0,222.2 L877.0,222.2 L881.0,222.2 L885.0,222.2 L889.0,222.2 L893.0,222.3 L897.0,222.5 L901.0,222.8 L905.0,223.1 L909.0,223.2 L913.0,223.0 L917.0,222.8 L921.0,222.5 L925.0,222.1 L929.0,221.6 L933.0,220.8 L937.0,220.0 L941.0,219.2 L945.0,218.4 L949.0,217.6 L953.0,216.9 L957.0,216.3 L961.0,216.2 L965.0,216.3 L969.0,216.4 L973.0,216.5 L977.0,216.3 L981.0,215.9 L985.0,215.4 L989.0,214.9 L993.0,214.6 L997.0,214.6 L1001.0,215.0 L1005.0,215.6 L1009.0,216.6 L1013.0,218.0 L1017.0,219.4 L1021.0,220.9 L1025.0,222.3 L1029.0,223.5 L1033.0,224.6 L1037.0,225.5 L1041.0,226.5 L1045.0,227.4 L1049.0,228.4 L1053.0,229.2 L1057.0,230.0 L1061.0,230.7 L1065.0,231.4 L1069.0,232.0 L1073.0,232.7 L1077.0,233.4 L1081.0,234.0 L1085.0,234.7 L1089.0,235.4 L1093.0,236.3 L1097.0,237.5 L1101.0,238.8 L1105.0,240.2 L1109.0,241.6 L1113.0,243.0 L1117.0,244.4 L1121.0,245.9 L1125.0,247.3 L1129.0,249.1 L1133.0,251.6 L1137.0,254.8 L1141.0,258.3 L1145.0,261.9 L1149.0,265.5 L1153.0,268.9 L1157.0,271.9 L1161.0,274.8 L1165.0,277.6 L1169.0,280.4 L1173.0,283.3 L1177.0,286.3 L1181.0,289.5 L1185.0,292.8 L1189.0,296.2 L1193.0,299.5 L1197.0,302.8 L1201.0,305.7 L1205.0,308.0 L1209.0,309.8 L1213.0,311.3 L1217.0,312.9 L1221.0,314.4 L1225.0,315.9 L1229.0,317.4 L1233.0,318.8 L1237.0,320.1 L1241.0,321.3 L1245.0,322.5 L1249.0,323.8 L1253.0,325.4 L1257.0,327.6 L1261.0,330.1 L1265.0,332.8 L1269.0,335.4 L1273.0,338.1 L1277.0,340.8 L1281.0,343.4 L1285.0,346.2 L1289.0,349.2 L1293.0,352.4 L1297.0,355.6 L1301.0,358.9 L1305.0,362.2 L1309.0,365.5 L1313.0,368.8 L1317.0,372.1 L1321.0,375.5 L1325.0,379.1 L1329.0,382.9 L1333.0,386.8 L1337.0,390.6 L1341.0,394.2 L1345.0,397.6 L1349.0,400.6 L1353.0,403.6 L1357.0,406.5 L1361.0,409.4 L1365.0,412.4 L1369.0,415.4 L1373.0,418.4 L1377.0,421.4 L1381.0,424.4 L1385.0,427.4 L1389.0,430.4 L1393.0,433.4 L1397.0,436.3 L1401.0,439.3 L1405.0,442.3 L1409.0,445.6 L1413.0,449.4 L1417.0,453.4 L1421.0,457.5 L1425.0,461.2 L1429.0,464.7 L1433.0,467.9 L1437.0,471.1 L1441.0,474.4 L1445.0,477.7 L1449.0,481.2 L1453.0,484.6 L1457.0,488.1 L1461.0,491.6 L1465.0,494.9 L1469.0,498.0 L1473.0,501.0 L1477.0,504.0 L1481.0,507.2 L1485.0,510.6 L1489.0,514.1 L1493.0,517.8 L1497.0,521.4 L1501.0,525.0 L1505.0,528.7 L1509.0,532.4 L1513.0,536.0 L1517.0,539.7 L1521.0,543.1 L1525.0,546.3 L1529.0,549.1 L1533.0,551.5 L1537.0,553.6 L1541.0,555.7 L1545.0,558.0 L1549.0,561.0 L1553.0,564.7 L1557.0,569.0 L1561.0,573.1 L1565.0,577.0 L1569.0,580.6 L1573.0,584.1 L1577.0,587.6 L1581.0,591.1 L1585.0,594.7 L1589.0,598.4 L1593.0,602.1 L1597.0,605.8 L1601.0,609.4 L1605.0,612.6 L1609.0,615.1 L1613.0,617.0 L1617.0,618.9 L1621.0,620.8 L1625.0,622.6 L1629.0,624.5 L1633.0,626.4 L1637.0,628.2 L1641.0,630.1 L1645.0,632.0 L1649.0,633.9 L1653.0,635.9 L1657.0,637.9 L1661.0,640.2 L1665.0,642.7 L1669.0,645.5 L1673.0,648.6 L1677.0,652.6 L1681.0,657.4 L1685.0,662.8 L1689.0,668.4 L1693.0,674.0 L1697.0,679.7 L1701.0,685.2 L1705.0,689.6 L1706.0,692.6" stroke="#30579b"/>
<path d="M341.0,640.7 L345.0,634.9 L349.0,629.1 L353.0,623.3 L357.0,617.4 L361.0,611.4 L365.0,605.2 L369.0,599.0 L373.0,592.8 L377.0,586.8 L381.0,581.0 L385.0,575.3 L389.0,569.9 L393.0,564.8 L397.0,560.1 L401.0,555.6 L405.0,551.0 L409.0,546.5 L413.0,541.9 L417.0,537.4 L421.0,532.7 L425.0,528.0 L429.0,523.3 L433.0,518.5 L437.0,513.8 L441.0,509.1 L445.0,504.4 L449.0,499.7 L453.0,495.1 L457.0,490.6 L461.0,486.1 L465.0,481.4 L469.0,476.6 L473.0,471.6 L477.0,466.7 L481.0,461.8 L485.0,457.0 L489.0,452.2 L493.0,447.5 L497.0,442.7 L501.0,438.0 L505.0,433.3 L509.0,428.6 L513.0,424.0 L517.0,419.4 L521.0,414.8 L525.0,410.4 L529.0,406.2 L533.0,402.2 L537.0,398.2 L541.0,394.1 L545.0,390.0 L549.0,385.9 L553.0,381.6 L557.0,377.1 L561.0,372.3 L565.0,367.4 L569.0,362.7 L573.0,358.5 L577.0,354.5 L581.0,350.7 L585.0,346.9 L589.0,343.3 L593.0,339.8 L597.0,336.3 L601.0,332.9 L605.0,329.6 L609.0,326.4 L613.0,323.3 L617.0,320.3 L621.0,317.5 L625.0,314.8 L629.0,311.9 L633.0,308.7 L637.0,305.4 L641.0,302.2 L645.0,299.2 L649.0,296.3 L653.0,293.4 L657.0,290.6 L661.0,287.7 L665.0,284.9 L669.0,282.1 L673.0,279.4 L677.0,276.7 L681.0,274.0 L685.0,271.3 L689.0,268.6 L693.0,266.0 L697.0,263.4 L701.0,261.0 L705.0,258.8 L709.0,257.1 L713.0,255.7 L717.0,254.4 L721.0,253.1 L725.0,251.8 L729.0,250.3 L733.0,248.6 L737.0,246.8 L741.0,245.0 L745.0,243.1 L749.0,241.3 L753.0,239.5 L757.0,237.7 L761.0,235.9 L765.0,234.2 L769.0,232.5 L773.0,230.7 L777.0,228.7 L781.0,226.4 L785.0,223.8 L789.0,221.3 L793.0,218.9 L797.0,216.9 L801.0,215.4 L805.0,214.1 L809.0,212.8 L813.0,211.6 L817.0,210.2 L821.0,208.5 L825.0,206.4 L829.0,204.2 L833.0,202.1 L837.0,200.3 L841.0,198.5 L845.0,196.6 L849.0,195.0 L853.0,193.9 L857.0,193.2 L861.0,192.5 L865.0,191.8 L869.0,191.0 L873.0,190.2 L877.0,189.3 L881.0,188.5 L885.0,187.6 L889.0,186.8 L893.0,186.2 L897.0,185.8 L901.0,185.6 L905.0,185.5 L909.0,185.4 L913.0,185.4 L917.0,185.7 L921.0,186.1 L925.0,186.6 L929.0,187.1 L933.0,187.6 L937.0,188.2 L941.0,188.9 L945.0,189.6 L949.0,190.4 L953.0,191.2 L957.0,192.0 L961.0,192.9 L965.0,193.7 L969.0,194.6 L973.0,195.5 L977.0,196.4 L981.0,197.3 L985.0,198.1 L989.0,198.7 L993.0,199.0 L997.0,199.2 L1001.0,199.4 L1005.0,199.6 L1009.0,199.8 L1013.0,200.1 L1017.0,200.5 L1021.0,201.0 L1025.0,201.9 L1029.0,203.0 L1033.0,204.4 L1037.0,205.9 L1041.0,207.4 L1045.0,208.9 L1049.0,210.3 L1053.0,211.8 L1057.0,213.3 L1061.0,214.9 L1065.0,216.6 L1069.0,218.6 L1073.0,220.7 L1077.0,222.9 L1081.0,225.1 L1085.0,227.2 L1089.0,229.3 L1093.0,231.3 L1097.0,232.9 L1101.0,234.4 L1105.0,235.8 L1109.0,237.2 L1113.0,238.6 L1117.0,240.0 L1121.0,241.4 L1125.0,242.9 L1129.0,244.3 L1133.0,245.7 L1137.0,247.1 L1141.0,248.5 L1145.0,249.9 L1149.0,251.3 L1153.0,252.7 L1157.0,254.1 L1161.0,255.5 L1165.0,256.9 L1169.0,258.3 L1173.0,259.8 L1177.0,261.4 L1181.0,263.1 L1185.0,265.0 L1189.0,266.8 L1193.0,268.7 L1197.0,270.6 L1201.0,272.4 L1205.0,274.3 L1209.0,276.5 L1213.0,278.9 L1217.0,281.5 L1221.0,284.2 L1225.0,286.8 L1229.0,289.5 L1233.0,292.2 L1237.0,294.9 L1241.0,297.6 L1245.0,300.6 L1249.0,303.7 L1253.0,306.9 L1257.0,310.1 L1261.0,313.3 L1265.0,316.5 L1269.0,319.7 L1273.0,322.8 L1277.0,325.6 L1281.0,328.2 L1285.0,330.6 L1289.0,333.0 L1293.0,335.5 L1297.0,338.3 L1301.0,341.7 L1305.0,345.5 L1309.0,349.5 L1313.0,353.5 L1317.0,357.6 L1321.0,361.6 L1325.0,365.6 L1329.0,369.7 L1333.0,374.0 L1337.0,378.2 L1341.0,382.0 L1345.0,385.1 L1349.0,387.9 L1353.0,390.6 L1357.0,393.3 L1361.0,396.2 L1365.0,399.1 L1369.0,402.1 L1373.0,405.1 L1377.0,408.1 L1381.0,411.2 L1385.0,414.2 L1389.0,417.2 L1393.0,420.1 L1397.0,422.8 L1401.0,425.4 L1405.0,428.0 L1409.0,430.8 L1413.0,434.0 L1417.0,437.7 L1421.0,441.8 L1425.0,445.8 L1429.0,449.7 L1433.0,453.1 L1437.0,456.1 L1441.0,458.8 L1445.0,461.4 L1449.0,464.1 L1453.0,466.8 L1457.0,469.9 L1461.0,473.2 L1465.0,476.5 L1469.0,479.7 L1473.0,482.9 L1477.0,486.0 L1481.0,489.0 L1485.0,492.0 L1489.0,495.1 L1493.0,498.1 L1497.0,501.3 L1501.0,504.8 L1505.0,508.7 L1509.0,512.6 L1513.0,516.6 L1517.0,520.3 L1521.0,523.7 L1525.0,526.7 L1529.0,529.4 L1533.0,531.9 L1537.0,534.4 L1541.0,537.2 L1545.0,540.7 L1549.0,544.6 L1553.0,548.5 L1557.0,552.1 L1561.0,555.5 L1565.0,558.7 L1569.0,561.9 L1573.0,565.1 L1577.0,568.3 L1581.0,571.5 L1585.0,574.7 L1589.0,577.9 L1593.0,581.1 L1597.0,584.4 L1601.0,588.0 L1605.0,591.6 L1609.0,595.4 L1613.0,599.1 L1617.0,602.7 L1621.0,606.2 L1625.0,609.5 L1629.0,612.7 L1633.0,615.9 L1637.0,619.1 L1641.0,622.1 L1645.0,624.9 L1649.0,627.6 L1653.0,630.2 L1657.0,632.9 L1661.0,635.6 L1665.0,638.3 L1669.0,641.1 L1673.0,644.1 L1677.0,647.4 L1681.0,651.2 L1685.0,655.1 L1689.0,658.9 L1693.0,662.5 L1697.0,666.0 L1701.0,669.2 L1705.0,671.8 L1706.0,673.5" stroke="#2d4f8e"/>
<path d="M341.0,639.3 L345.0,633.2 L349.0,627.2 L353.0,621.1 L357.0,615.1 L361.0,609.1 L365.0,603.0 L369.0,596.8 L373.0,590.5 L377.0,584.3 L381.0,578.3 L385.0,572.6 L389.0,567.2 L393.0,562.0 L397.0,557.2 L401.0,552.7 L405.0,548.5 L409.0,544.2 L413.0,539.7 L417.0,535.0 L421.0,530.3 L425.0,525.6 L429.0,520.8 L433.0,516.0 L437.0,511.2 L441.0,506.4 L445.0,501.7 L449.0,497.1 L453.0,492.6 L457.0,488.1 L461.0,483.6 L465.0,479.0 L469.0,474.2 L473.0,469.2 L477.0,464.2 L481.0,459.2 L485.0,454.2 L489.0,449.5 L493.0,444.8 L497.0,440.3 L501.0,435.7 L505.0,430.9 L509.0,426.1 L513.0,421.2 L517.0,416.4 L521.0,411.9 L525.0,407.7 L529.0,403.7 L533.0,399.7 L537.0,395.8 L541.0,391.7 L545.0,387.6 L549.0,383.5 L553.0,379.2 L557.0,374.6 L561.0,369.8 L565.0,364.9 L569.0,360.0 L573.0,355.6 L577.0,351.6 L581.0,347.9 L585.0,344.3 L589.0,340.7 L593.0,337.2 L597.0,333.7 L601.0,330.3 L605.0,327.0 L609.0,323.7 L613.0,320.6 L617.0,317.7 L621.0,315.0 L625.0,312.3 L629.0,309.4 L633.0,306.1 L637.0,302.8 L641.0,299.6 L645.0,296.7 L649.0,293.8 L653.0,290.9 L657.0,288.1 L661.0,285.2 L665.0,282.4 L669.0,279.6 L673.0,276.9 L677.0,274.1 L681.0,271.4 L685.0,268.6 L689.0,265.6 L693.0,262.1 L697.0,258.2 L701.0,254.3 L705.0,250.8 L709.0,248.1 L713.0,245.7 L717.0,243.5 L721.0,241.2 L725.0,239.0 L729.0,236.8 L733.0,234.7 L737.0,232.8 L741.0,231.2 L745.0,229.6 L749.0,228.0 L753.0,226.4 L757.0,224.7 L761.0,222.9 L765.0,221.0 L769.0,219.0 L773.0,217.0 L777.0,215.0 L781.0,213.0 L785.0,211.0 L789.0,209.0 L793.0,207.0 L797.0,205.0 L801.0,203.0 L805.0,201.0 L809.0,199.1 L813.0,197.3 L817.0,195.4 L821.0,193.6 L825.0,191.8 L829.0,190.1 L833.0,188.6 L837.0,187.2 L841.0,185.7 L845.0,184.0 L849.0,182.4 L853.0,181.2 L857.0,180.3 L861.0,179.4 L865.0,178.8 L869.0,178.6 L873.0,178.5 L877.0,178.5 L881.0,178.5 L885.0,178.5 L889.0,178.5 L893.0,178.7 L897.0,179.0 L901.0,179.4 L905.0,179.9 L909.0,180.3 L913.0,180.8 L917.0,181.1 L921.0,181.4 L925.0,181.8 L929.0,182.1 L933.0,182.4 L937.0,182.7 L941.0,182.9 L945.0,183.1 L949.0,183.3 L953.0,183.5 L957.0,183.7 L961.0,183.9 L965.0,184.0 L969.0,184.1 L973.0,184.2 L977.0,184.3 L981.0,184.4 L985.0,184.5 L989.0,184.3 L993.0,184.1 L997.0,183.7 L1001.0,183.2 L1005.0,182.6 L1009.0,181.9 L1013.0,181.2 L1017.0,180.7 L1021.0,180.5 L1025.0,180.5 L1029.0,180.7 L1033.0,181.3 L1037.0,182.0 L1041.0,182.8 L1045.0,183.5 L1049.0,184.3 L1053.0,185.0 L1057.0,185.8 L1061.0,186.7 L1065.0,188.0 L1069.0,189.8 L1073.0,191.9 L1077.0,194.1 L1081.0,196.3 L1085.0,198.5 L1089.0,200.7 L1093.0,202.9 L1097.0,205.1 L1101.0,207.3 L1105.0,209.5 L1109.0,211.6 L1113.0,213.5 L1117.0,215.3 L1121.0,217.2 L1125.0,219.0 L1129.0,220.8 L1133.0,222.6 L1137.0,224.4 L1141.0,226.2 L1145.0,228.0 L1149.0,229.8 L1153.0,231.7 L1157.0,233.7 L1161.0,235.9 L1165.0,238.0 L1169.0,240.2 L1173.0,242.3 L1177.0,244.6 L1181.0,247.1 L1185.0,249.8 L1189.0,252.7 L1193.0,255.6 L1197.0,258.5 L1201.0,261.4 L1205.0,264.4 L1209.0,267.4 L1213.0,270.5 L1217.0,273.7 L1221.0,276.9 L1225.0,280.1 L1229.0,283.3 L1233.0,286.5 L1237.0,289.7 L1241.0,292.9 L1245.0,296.1 L1249.0,299.4 L1253.0,302.6 L1257.0,305.8 L1261.0,309.0 L1265.0,312.2 L1269.0,315.3 L1273.0,318.5 L1277.0,321.7 L1281.0,324.8 L1285.0,327.8 L1289.0,330.4 L1293.0,332.7 L1297.0,334.9 L1301.0,337.0 L1305.0,339.2 L1309.0,341.3 L1313.0,343.5 L1317.0,345.6 L1321.0,347.9 L1325.0,350.3 L1329.0,352.8 L1333.0,355.3 L1337.0,357.7 L1341.0,360.1 L1345.0,362.5 L1349.0,364.8 L1353.0,367.1 L1357.0,369.8 L1361.0,373.0 L1365.0,376.9 L1369.0,380.9 L1373.0,384.8 L1377.0,388.6 L1381.0,392.3 L1385.0,396.0 L1389.0,399.4 L1393.0,402.5 L1397.0,405.5 L1401.0,408.5 L1405.0,411.5 L1409.0,414.8 L1413.0,418.5 L1417.0,422.5 L1421.0,426.9 L1425.0,431.5 L1429.0,436.0 L1433.0,440.2 L1437.0,443.6 L1441.0,446.5 L1445.0,449.4 L1449.0,452.3 L1453.0,455.3 L1457.0,458.5 L1461.0,461.7 L1465.0,464.9 L1469.0,468.3 L1473.0,471.9 L1477.0,475.7 L1481.0,479.2 L1485.0,482.5 L1489.0,485.6 L1493.0,488.7 L1497.0,492.0 L1501.0,495.6 L1505.0,499.4 L1509.0,503.2 L1513.0,507.0 L1517.0,510.5 L1521.0,513.5 L1525.0,516.2 L1529.0,519.0 L1533.0,522.1 L1537.0,525.4 L1541.0,528.5 L1545.0,531.6 L1549.0,534.8 L1553.0,538.2 L1557.0,541.8 L1561.0,545.2 L1565.0,548.5 L1569.0,551.6 L1573.0,554.6 L1577.0,557.6 L1581.0,560.6 L1585.0,563.7 L1589.0,566.8 L1593.0,570.2 L1597.0,573.8 L1601.0,577.5 L1605.0,581.3 L1609.0,584.9 L1613.0,588.4 L1617.0,591.8 L1621.0,595.0 L1625.0,598.2 L1629.0,601.4 L1633.0,604.7 L1637.0,608.0 L1641.0,611.5 L1645.0,615.0 L1649.0,618.4 L1653.0,621.8 L1657.0,624.9 L1661.0,627.9 L1665.0,630.9 L1669.0,633.8 L1673.0,636.9 L1677.0,640.3 L1681.0,644.1 L1685.0,648.1 L1689.0,652.5 L1693.0,657.5 L1697.0,662.9 L1701.0,668.2 L1705.0,672.6 L1706.0,675.5" stroke="#2b4a82"/>
</g>
<g font-size="83">
<text x="281" y="1164.8" text-anchor="end">0</text>
<text x="281" y="947.6" text-anchor="end">100</text>
<text x="281" y="730.4" text-anchor="end">200</text>
<text x="281" y="513.2" text-anchor="end">300</text>
<text x="281" y="296.0" text-anchor="end">400</text>
<text x="281" y="78.8" text-anchor="end">500</text>
<text x="347.0" y="1258.7" text-anchor="middle">320</text>
<text x="797.7" y="1258.7" text-anchor="middle">340</text>
<text x="1248.3" y="1258.7" text-anchor="middle">360</text>
<text x="1699.0" y="1258.7" text-anchor="middle">380</text>
</g>
<text x="1023" y="1374" text-anchor="middle" font-size="96">Wavelength / nm</text>
<text transform="translate(89,561.5) rotate(-90) scale(1.1,1)" text-anchor="middle" font-size="100" font-style="italic">F</text>
<text transform="translate(1864,1062.5) rotate(-90)" font-size="99">Temperature</text>
<line x1="1758" y1="1028" x2="1758" y2="560" stroke="#000" stroke-width="10"/>
<polygon points="1758,535 1743,564 1773,564" fill="#000"/>
</svg>
</body></html>
